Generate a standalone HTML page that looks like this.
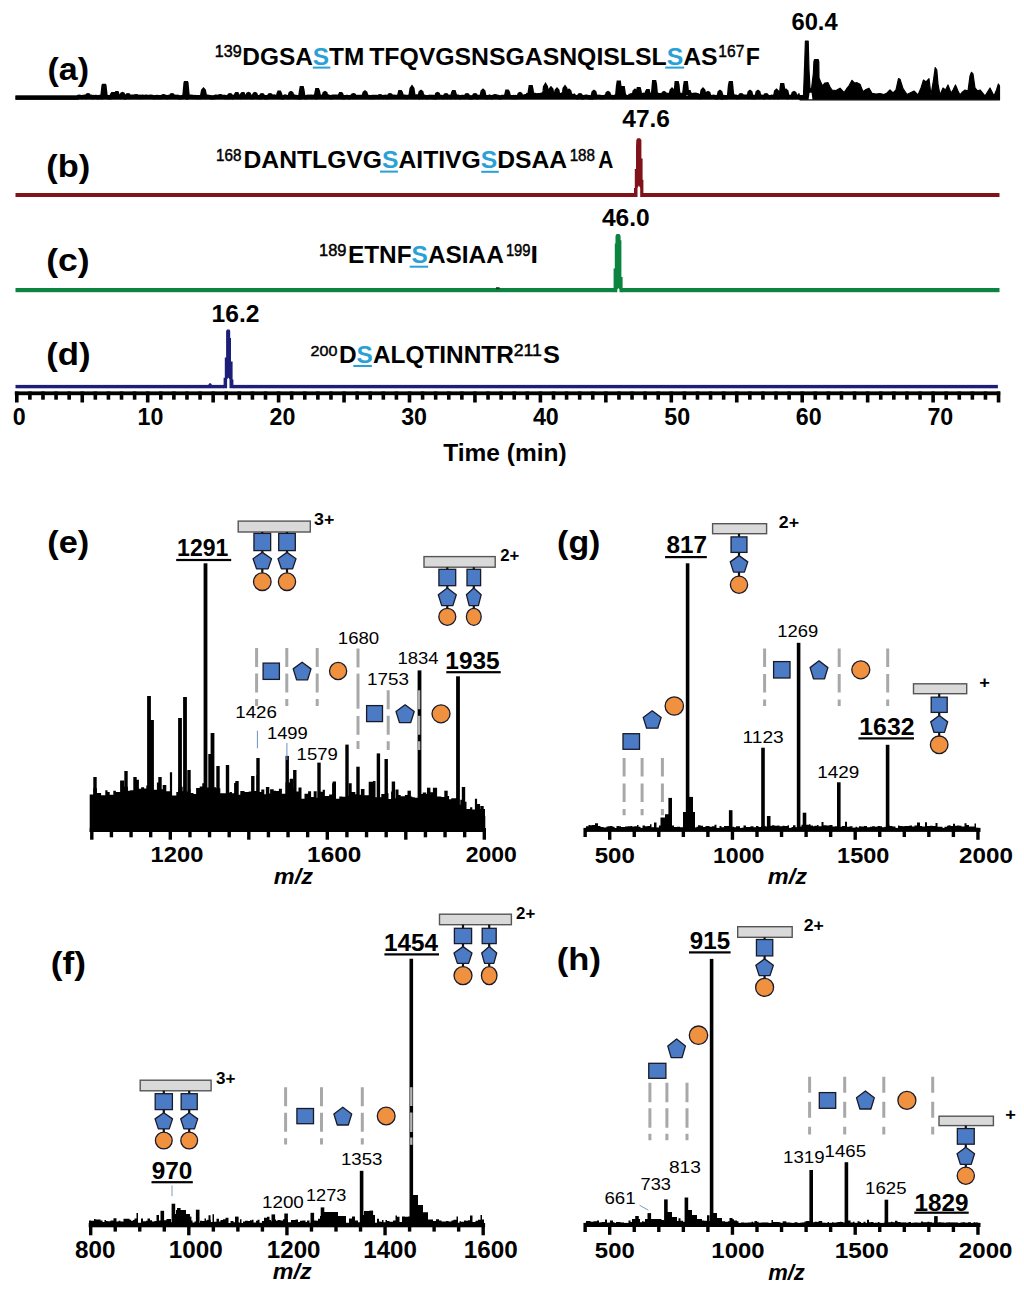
<!DOCTYPE html>
<html><head><meta charset="utf-8"><title>Figure</title>
<style>
html,body{margin:0;padding:0;background:#fff;}
body{width:1024px;height:1290px;overflow:hidden;position:relative;}
svg{position:absolute;left:0;top:0;display:block;}
text{font-family:"Liberation Sans",sans-serif;}
</style></head><body>
<svg width="1024" height="1290" viewBox="0 0 1024 1290">
<rect width="1024" height="1290" fill="#fff"/>
<text x="47.40" y="79.83" font-size="31.76" font-weight="bold" font-style="normal" fill="#000" textLength="41.61" lengthAdjust="spacingAndGlyphs">(a)</text>
<text x="46.28" y="177.07" font-size="31.82" font-weight="bold" font-style="normal" fill="#000" textLength="43.94" lengthAdjust="spacingAndGlyphs">(b)</text>
<text x="46.22" y="271.11" font-size="31.87" font-weight="bold" font-style="normal" fill="#000" textLength="43.46" lengthAdjust="spacingAndGlyphs">(c)</text>
<text x="46.26" y="364.61" font-size="31.87" font-weight="bold" font-style="normal" fill="#000" textLength="44.37" lengthAdjust="spacingAndGlyphs">(d)</text>
<text x="214.89" y="56.84" font-size="15.77" font-weight="normal" font-style="normal" fill="#000" textLength="26.89" lengthAdjust="spacingAndGlyphs" stroke="#000" stroke-width="0.45">139</text>
<text x="242.31" y="64.80" font-size="24.00" font-weight="bold" font-style="normal" fill="#000" textLength="122.00" lengthAdjust="spacingAndGlyphs">DGSA<tspan fill="#2aa1d6">S</tspan>TM</text>
<text x="369.15" y="64.80" font-size="24.00" font-weight="bold" font-style="normal" fill="#000" textLength="348.48" lengthAdjust="spacingAndGlyphs">TFQVGSNSGASNQISLSL<tspan fill="#2aa1d6">S</tspan>AS</text>
<text x="718.33" y="56.84" font-size="15.77" font-weight="normal" font-style="normal" fill="#000" textLength="26.00" lengthAdjust="spacingAndGlyphs" stroke="#000" stroke-width="0.45">167</text>
<text x="745.70" y="64.80" font-size="24.00" font-weight="bold" font-style="normal" fill="#000" textLength="14.13" lengthAdjust="spacingAndGlyphs">F</text>
<rect x="312.80" y="66.60" width="17.60" height="2.00" fill="#2aa1d6"/>
<rect x="665.20" y="66.60" width="19.00" height="2.00" fill="#2aa1d6"/>
<text x="216.06" y="161.44" font-size="15.63" font-weight="normal" font-style="normal" fill="#000" textLength="25.40" lengthAdjust="spacingAndGlyphs" stroke="#000" stroke-width="0.45">168</text>
<text x="243.50" y="168.20" font-size="24.00" font-weight="bold" font-style="normal" fill="#000" textLength="323.67" lengthAdjust="spacingAndGlyphs">DANTLGVG<tspan fill="#2aa1d6">S</tspan>AITIVG<tspan fill="#2aa1d6">S</tspan>DSAA</text>
<text x="569.66" y="161.44" font-size="15.63" font-weight="normal" font-style="normal" fill="#000" textLength="25.40" lengthAdjust="spacingAndGlyphs" stroke="#000" stroke-width="0.45">188</text>
<text x="598.18" y="168.20" font-size="24.00" font-weight="bold" font-style="normal" fill="#000" textLength="15.09" lengthAdjust="spacingAndGlyphs">A</text>
<rect x="380.00" y="170.60" width="18.00" height="2.00" fill="#2aa1d6"/>
<rect x="481.20" y="170.80" width="17.60" height="2.00" fill="#2aa1d6"/>
<text x="319.07" y="256.44" font-size="15.63" font-weight="normal" font-style="normal" fill="#000" textLength="27.43" lengthAdjust="spacingAndGlyphs" stroke="#000" stroke-width="0.45">189</text>
<text x="347.91" y="262.70" font-size="24.00" font-weight="bold" font-style="normal" fill="#000" textLength="155.90" lengthAdjust="spacingAndGlyphs">ETNF<tspan fill="#2aa1d6">S</tspan>ASIAA</text>
<text x="505.89" y="256.44" font-size="15.63" font-weight="normal" font-style="normal" fill="#000" textLength="24.62" lengthAdjust="spacingAndGlyphs" stroke="#000" stroke-width="0.45">199</text>
<text x="530.55" y="262.70" font-size="24.00" font-weight="bold" font-style="normal" fill="#000" textLength="7.47" lengthAdjust="spacingAndGlyphs">I</text>
<rect x="409.70" y="265.70" width="18.50" height="2.00" fill="#2aa1d6"/>
<text x="310.60" y="355.65" font-size="15.49" font-weight="normal" font-style="normal" fill="#000" textLength="26.82" lengthAdjust="spacingAndGlyphs" stroke="#000" stroke-width="0.45">200</text>
<text x="339.01" y="363.30" font-size="24.00" font-weight="bold" font-style="normal" fill="#000" textLength="174.80" lengthAdjust="spacingAndGlyphs">D<tspan fill="#2aa1d6">S</tspan>ALQTINNTR</text>
<text x="513.71" y="355.80" font-size="15.71" font-weight="normal" font-style="normal" fill="#000" textLength="28.27" lengthAdjust="spacingAndGlyphs" stroke="#000" stroke-width="0.45">211</text>
<text x="543.04" y="363.30" font-size="24.00" font-weight="bold" font-style="normal" fill="#000" textLength="16.90" lengthAdjust="spacingAndGlyphs">S</text>
<rect x="353.30" y="365.00" width="18.60" height="2.00" fill="#2aa1d6"/>
<text x="791.47" y="29.96" font-size="23.52" font-weight="bold" font-style="normal" fill="#000" textLength="46.18" lengthAdjust="spacingAndGlyphs">60.4</text>
<text x="622.33" y="127.06" font-size="23.66" font-weight="bold" font-style="normal" fill="#000" textLength="47.66" lengthAdjust="spacingAndGlyphs">47.6</text>
<text x="601.93" y="225.66" font-size="24.23" font-weight="bold" font-style="normal" fill="#000" textLength="47.83" lengthAdjust="spacingAndGlyphs">46.0</text>
<text x="211.52" y="321.75" font-size="24.79" font-weight="bold" font-style="normal" fill="#000" textLength="47.89" lengthAdjust="spacingAndGlyphs">16.2</text>
<rect x="15.50" y="95.60" width="785.00" height="4.10" fill="#000"/>
<polyline points="15.50,97.70 16.00,97.70 16.50,97.70 17.00,97.70 17.50,97.70 18.00,97.70 18.50,97.70 19.00,97.70 19.50,97.70 20.00,97.70 20.50,97.70 21.00,97.70 21.50,97.70 22.00,97.70 22.50,97.70 23.00,97.70 23.50,97.70 24.00,97.70 24.50,97.70 25.00,97.70 25.50,97.70 26.00,97.70 26.50,97.70 27.00,97.70 27.50,97.70 28.00,97.70 28.50,97.70 29.00,97.70 29.50,97.70 30.00,97.70 30.50,97.70 31.00,97.70 31.50,97.70 32.00,97.70 32.50,97.70 33.00,97.70 33.50,97.70 34.00,97.70 34.50,97.70 35.00,97.70 35.50,97.70 36.00,97.70 36.50,97.70 37.00,97.70 37.50,97.70 38.00,97.70 38.50,97.70 39.00,97.70 39.50,97.70 40.00,97.70 40.50,97.70 41.00,97.70 41.50,97.70 42.00,97.70 42.50,97.70 43.00,97.70 43.50,97.70 44.00,97.70 44.50,97.70 45.00,97.70 45.50,97.70 46.00,97.70 46.50,97.70 47.00,97.70 47.50,97.70 48.00,97.70 48.50,97.70 49.00,97.70 49.50,97.70 50.00,97.70 50.50,97.70 51.00,97.70 51.50,97.70 52.00,97.70 52.50,97.70 53.00,97.70 53.50,97.70 54.00,97.70 54.50,97.70 55.00,97.70 55.50,97.70 56.00,97.70 56.50,97.70 57.00,97.70 57.50,97.70 58.00,97.70 58.50,97.70 59.00,97.70 59.50,97.70 60.00,97.70 60.50,97.70 61.00,97.70 61.50,97.70 62.00,97.70 62.50,97.70 63.00,97.70 63.50,97.70 64.00,97.70 64.50,97.70 65.00,97.70 65.50,97.70 66.00,97.70 66.50,97.70 67.00,97.70 67.50,97.70 68.00,97.70 68.50,97.70 69.00,97.70 69.50,97.70 70.00,97.70 70.50,97.70 71.00,97.70 71.50,97.70 72.00,97.70 72.50,97.70 73.00,97.70 73.50,97.70 74.00,97.70 74.50,97.70 75.00,97.70 75.50,97.70 76.00,97.70 76.50,97.70 77.00,97.70 77.50,97.70 78.00,96.97 78.50,96.68 79.00,96.59 79.50,96.74 80.00,96.93 80.50,96.90 81.00,96.97 81.50,97.06 82.00,97.12 82.50,96.92 83.00,96.82 83.50,96.92 84.00,96.73 84.50,96.63 85.00,96.86 85.50,96.94 86.00,97.03 86.50,96.99 87.00,96.13 87.50,95.27 88.00,95.10 88.50,95.27 89.00,96.13 89.50,96.93 90.00,96.91 90.50,97.01 91.00,97.03 91.50,96.76 92.00,96.99 92.50,97.18 93.00,97.17 93.50,97.02 94.00,97.13 94.50,96.99 95.00,97.00 95.50,96.90 96.00,96.89 96.50,97.04 97.00,97.20 97.50,97.24 98.00,97.39 98.50,97.32 99.00,97.06 99.50,96.95 100.00,96.92 100.50,96.94 101.00,97.11 101.50,97.37 102.00,97.25 102.50,94.78 103.00,90.24 103.50,85.71 104.00,84.80 104.50,85.71 105.00,90.24 105.50,94.78 106.00,96.61 106.50,96.80 107.00,96.90 107.50,96.97 108.00,97.15 108.50,97.27 109.00,97.20 109.50,97.32 110.00,97.23 110.50,97.32 111.00,97.10 111.50,96.04 112.00,94.83 112.50,94.10 113.00,94.10 113.50,95.07 114.00,96.29 114.50,96.94 115.00,96.86 115.50,95.30 116.00,93.73 116.50,93.10 117.00,93.10 117.50,94.67 118.00,96.24 118.50,96.64 119.00,96.69 119.50,96.67 120.00,96.79 120.50,96.94 121.00,96.77 121.50,95.56 122.00,94.34 122.50,94.10 123.00,94.34 123.50,95.56 124.00,96.77 124.50,97.26 125.00,97.33 125.50,97.44 126.00,97.37 126.50,96.99 127.00,96.13 127.50,95.27 128.00,95.10 128.50,95.27 129.00,96.13 129.50,96.99 130.00,97.02 130.50,96.90 131.00,96.88 131.50,96.82 132.00,96.60 132.50,96.50 133.00,96.53 133.50,96.51 134.00,96.69 134.50,96.77 135.00,96.70 135.50,96.20 136.00,96.10 136.50,96.20 137.00,96.67 137.50,96.80 138.00,96.64 138.50,96.73 139.00,96.96 139.50,97.09 140.00,96.80 140.50,97.04 141.00,97.02 141.50,96.81 142.00,96.74 142.50,96.91 143.00,96.66 143.50,96.73 144.00,96.87 144.50,96.83 145.00,96.78 145.50,96.83 146.00,96.64 146.50,96.64 147.00,96.70 147.50,96.83 148.00,96.83 148.50,96.95 149.00,96.98 149.50,96.87 150.00,96.72 150.50,96.87 151.00,96.81 151.50,96.72 152.00,96.87 152.50,96.88 153.00,96.94 153.50,97.13 154.00,97.27 154.50,97.22 155.00,97.16 155.50,97.08 156.00,96.96 156.50,96.86 157.00,96.92 157.50,97.15 158.00,97.20 158.50,97.11 159.00,97.23 159.50,97.24 160.00,97.05 160.50,97.03 161.00,97.13 161.50,97.03 162.00,97.00 162.50,96.70 163.00,96.20 163.50,96.10 164.00,96.20 164.50,96.70 165.00,96.77 165.50,96.81 166.00,96.96 166.50,97.20 167.00,97.07 167.50,97.09 168.00,97.12 168.50,96.87 169.00,96.85 169.50,96.86 170.00,96.78 170.50,96.82 171.00,96.13 171.50,95.27 172.00,95.10 172.50,95.27 173.00,96.13 173.50,96.81 174.00,96.88 174.50,96.84 175.00,96.63 175.50,96.78 176.00,96.87 176.50,96.88 177.00,96.77 177.50,97.01 178.00,97.13 178.50,97.00 179.00,97.18 179.50,97.43 180.00,97.40 180.50,97.36 181.00,97.26 181.50,97.24 182.00,97.10 182.50,96.96 183.00,96.88 183.50,97.09 184.00,96.97 184.50,94.16 185.00,88.59 185.50,83.01 186.00,81.90 186.50,83.01 187.00,88.59 187.50,94.16 188.00,97.15 188.50,96.98 189.00,96.71 189.50,96.74 190.00,96.78 190.50,96.71 191.00,96.68 191.50,96.81 192.00,96.80 192.50,96.98 193.00,96.85 193.50,96.98 194.00,96.98 194.50,96.99 195.00,96.95 195.50,97.09 196.00,97.11 196.50,97.12 197.00,97.17 197.50,97.18 198.00,97.13 198.50,97.18 199.00,97.22 199.50,97.09 200.00,97.06 200.50,97.18 201.00,97.11 201.50,97.08 202.00,95.91 202.50,93.27 203.00,90.63 203.50,90.10 204.00,90.63 204.50,93.27 205.00,95.91 205.50,97.00 206.00,97.09 206.50,96.94 207.00,96.70 207.50,96.70 208.00,96.81 208.50,96.76 209.00,96.84 209.50,97.01 210.00,97.08 210.50,97.16 211.00,97.25 211.50,97.37 212.00,97.39 212.50,97.47 213.00,97.41 213.50,97.45 214.00,97.26 214.50,97.15 215.00,96.91 215.50,96.71 216.00,96.71 216.50,96.75 217.00,96.69 217.50,96.72 218.00,96.86 218.50,96.76 219.00,96.70 219.50,96.20 220.00,96.10 220.50,96.20 221.00,96.70 221.50,96.84 222.00,96.70 222.50,96.81 223.00,96.76 223.50,96.83 224.00,96.80 224.50,97.02 225.00,96.93 225.50,97.05 226.00,97.00 226.50,97.12 227.00,97.09 227.50,97.02 228.00,96.80 228.50,96.95 229.00,96.13 229.50,95.27 230.00,95.10 230.50,95.27 231.00,96.13 231.50,96.98 232.00,97.09 232.50,97.29 233.00,97.03 233.50,96.86 234.00,96.98 234.50,96.94 235.00,96.82 235.50,96.04 236.00,94.83 236.50,94.10 237.00,94.10 237.50,95.07 238.00,96.29 238.50,96.96 239.00,96.87 239.50,96.94 240.00,96.94 240.50,97.05 241.00,97.01 241.50,95.80 242.00,94.59 242.50,94.10 243.00,94.10 243.50,95.31 244.00,96.53 244.50,96.95 245.00,96.96 245.50,96.95 246.00,96.96 246.50,97.05 247.00,96.77 247.50,95.56 248.00,94.34 248.50,94.10 249.00,94.34 249.50,95.56 250.00,96.75 250.50,96.86 251.00,97.01 251.50,96.98 252.00,97.05 252.50,97.24 253.00,97.21 253.50,96.77 254.00,95.56 254.50,94.34 255.00,94.10 255.50,94.34 256.00,95.56 256.50,96.77 257.00,97.12 257.50,97.22 258.00,97.17 258.50,97.10 259.00,97.08 259.50,96.96 260.00,96.77 260.50,96.99 261.00,96.13 261.50,95.27 262.00,95.10 262.50,95.27 263.00,96.13 263.50,96.85 264.00,96.98 264.50,97.07 265.00,97.20 265.50,97.34 266.00,97.19 266.50,97.17 267.00,97.20 267.50,97.28 268.00,97.27 268.50,96.99 269.00,96.13 269.50,95.27 270.00,95.10 270.50,95.27 271.00,96.13 271.50,96.76 272.00,96.84 272.50,96.66 273.00,96.51 273.50,96.61 274.00,96.56 274.50,96.51 275.00,96.69 275.50,96.82 276.00,96.71 276.50,96.95 277.00,96.90 277.50,96.70 278.00,95.75 278.50,94.00 279.00,92.60 279.50,92.60 280.00,93.65 280.50,95.40 281.00,97.04 281.50,97.04 282.00,97.24 282.50,97.47 283.00,97.46 283.50,97.22 284.00,97.00 284.50,96.77 285.00,96.52 285.50,96.57 286.00,96.86 286.50,96.97 287.00,97.00 287.50,97.04 288.00,97.03 288.50,97.00 289.00,97.01 289.50,96.56 290.00,94.99 290.50,93.41 291.00,93.10 291.50,93.41 292.00,94.99 292.50,96.56 293.00,96.87 293.50,96.59 294.00,96.49 294.50,96.73 295.00,96.99 295.50,96.83 296.00,96.88 296.50,97.14 297.00,97.15 297.50,97.06 298.00,97.17 298.50,97.34 299.00,97.19 299.50,97.21 300.00,97.25 300.50,94.14 301.00,90.79 301.50,88.10 302.00,88.10 302.50,90.11 303.00,93.47 303.50,96.83 304.00,96.88 304.50,97.05 305.00,97.26 305.50,97.29 306.00,97.14 306.50,96.98 307.00,96.79 307.50,96.83 308.00,96.71 308.50,96.80 309.00,96.97 309.50,96.99 310.00,96.81 310.50,96.74 311.00,96.83 311.50,96.69 312.00,96.95 312.50,96.84 313.00,96.78 313.50,96.63 314.00,96.88 314.50,96.67 315.00,96.86 315.50,97.03 316.00,95.39 316.50,92.74 317.00,90.10 317.50,90.10 318.00,91.16 318.50,93.80 319.00,96.44 319.50,96.47 320.00,96.47 320.50,96.62 321.00,96.78 321.50,96.89 322.00,96.93 322.50,97.01 323.00,97.06 323.50,96.56 324.00,94.99 324.50,93.41 325.00,93.10 325.50,93.41 326.00,94.99 326.50,96.56 327.00,96.81 327.50,96.76 328.00,96.72 328.50,96.55 329.00,96.84 329.50,96.90 330.00,97.09 330.50,97.27 331.00,97.26 331.50,97.01 332.00,97.16 332.50,96.89 333.00,96.63 333.50,96.60 334.00,96.56 334.50,96.50 335.00,96.50 335.50,96.54 336.00,96.65 336.50,96.85 337.00,96.69 337.50,96.85 338.00,96.98 338.50,96.83 339.00,96.76 339.50,96.29 340.00,95.07 340.50,94.10 341.00,94.10 341.50,94.83 342.00,96.04 342.50,97.01 343.00,96.98 343.50,97.21 344.00,97.12 344.50,97.11 345.00,97.03 345.50,97.09 346.00,96.93 346.50,96.84 347.00,96.90 347.50,96.95 348.00,97.01 348.50,97.10 349.00,97.32 349.50,97.17 350.00,97.04 350.50,96.90 351.00,96.82 351.50,96.68 352.00,96.81 352.50,96.13 353.00,95.27 353.50,95.10 354.00,95.27 354.50,96.13 355.00,96.99 355.50,97.03 356.00,97.07 356.50,96.94 357.00,96.81 357.50,96.79 358.00,96.95 358.50,96.98 359.00,96.97 359.50,96.90 360.00,96.92 360.50,96.89 361.00,96.83 361.50,96.84 362.00,97.06 362.50,96.90 363.00,96.77 363.50,96.45 364.00,94.70 364.50,92.95 365.00,92.60 365.50,92.95 366.00,94.70 366.50,96.45 367.00,96.95 367.50,96.83 368.00,96.75 368.50,96.81 369.00,96.95 369.50,97.15 370.00,97.16 370.50,97.14 371.00,97.07 371.50,97.11 372.00,96.92 372.50,97.08 373.00,96.98 373.50,97.07 374.00,96.91 374.50,97.03 375.00,96.94 375.50,96.93 376.00,96.94 376.50,96.91 377.00,96.90 377.50,96.97 378.00,97.06 378.50,97.00 379.00,96.70 379.50,96.20 380.00,96.10 380.50,96.20 381.00,96.70 381.50,96.85 382.00,96.88 382.50,96.97 383.00,97.05 383.50,96.97 384.00,96.91 384.50,96.75 385.00,96.74 385.50,96.66 386.00,96.75 386.50,96.91 387.00,97.07 387.50,97.00 388.00,97.09 388.50,96.99 389.00,96.13 389.50,95.27 390.00,95.10 390.50,95.27 391.00,96.13 391.50,96.65 392.00,96.73 392.50,96.68 393.00,96.80 393.50,96.92 394.00,96.79 394.50,96.75 395.00,96.94 395.50,96.95 396.00,96.94 396.50,96.92 397.00,96.83 397.50,96.76 398.00,96.79 398.50,96.77 399.00,95.96 399.50,94.03 400.00,92.10 400.50,92.10 401.00,92.87 401.50,94.80 402.00,96.71 402.50,96.74 403.00,96.67 403.50,96.64 404.00,96.55 404.50,96.75 405.00,96.72 405.50,96.78 406.00,96.90 406.50,97.12 407.00,96.99 407.50,97.02 408.00,96.91 408.50,96.86 409.00,96.59 409.50,96.80 410.00,96.83 410.50,95.49 411.00,92.13 411.50,88.77 412.00,88.10 412.50,88.77 413.00,92.13 413.50,95.49 414.00,97.05 414.50,97.08 415.00,96.89 415.50,96.63 416.00,96.56 416.50,96.38 417.00,96.35 417.50,96.57 418.00,96.84 418.50,96.95 419.00,97.17 419.50,96.34 420.00,94.41 420.50,92.49 421.00,92.10 421.50,92.49 422.00,94.41 422.50,96.34 423.00,97.03 423.50,96.85 424.00,96.92 424.50,96.74 425.00,96.93 425.50,96.98 426.00,97.06 426.50,97.11 427.00,97.30 427.50,97.23 428.00,97.14 428.50,97.07 429.00,96.86 429.50,96.71 430.00,96.74 430.50,96.77 431.00,96.95 431.50,96.95 432.00,97.08 432.50,96.97 433.00,97.12 433.50,96.98 434.00,97.18 434.50,97.23 435.00,97.45 435.50,97.41 436.00,96.77 436.50,95.56 437.00,94.34 437.50,94.10 438.00,94.34 438.50,95.56 439.00,96.77 439.50,97.10 440.00,97.06 440.50,96.82 441.00,96.82 441.50,96.86 442.00,97.00 442.50,97.04 443.00,97.28 443.50,97.10 444.00,96.99 444.50,96.91 445.00,96.13 445.50,95.27 446.00,95.10 446.50,95.27 447.00,96.13 447.50,96.99 448.00,96.81 448.50,96.88 449.00,96.94 449.50,97.05 450.00,96.90 450.50,96.92 451.00,97.06 451.50,97.06 452.00,96.91 452.50,95.19 453.00,93.26 453.50,92.10 454.00,92.10 454.50,93.64 455.00,95.57 455.50,97.10 456.00,97.10 456.50,96.90 457.00,96.83 457.50,96.66 458.00,96.70 458.50,96.79 459.00,97.05 459.50,97.15 460.00,97.31 460.50,97.37 461.00,97.16 461.50,96.96 462.00,96.85 462.50,96.83 463.00,96.86 463.50,97.03 464.00,97.10 464.50,97.15 465.00,97.07 465.50,96.91 466.00,96.13 466.50,95.27 467.00,95.10 467.50,95.27 468.00,96.13 468.50,96.99 469.00,97.28 469.50,97.31 470.00,97.35 470.50,97.38 471.00,97.45 471.50,97.43 472.00,97.23 472.50,97.13 473.00,96.90 473.50,96.88 474.00,96.13 474.50,95.27 475.00,95.10 475.50,95.27 476.00,96.13 476.50,96.99 477.00,97.26 477.50,97.37 478.00,97.15 478.50,97.00 479.00,96.76 479.50,96.75 480.00,96.67 480.50,96.70 481.00,96.82 481.50,96.13 482.00,93.84 482.50,91.56 483.00,91.10 483.50,91.56 484.00,93.84 484.50,96.13 485.00,97.01 485.50,97.18 486.00,97.11 486.50,97.16 487.00,97.30 487.50,97.22 488.00,97.03 488.50,97.05 489.00,96.86 489.50,96.62 490.00,96.85 490.50,97.04 491.00,97.11 491.50,97.14 492.00,97.25 492.50,97.11 493.00,96.86 493.50,96.60 494.00,96.57 494.50,96.20 495.00,96.10 495.50,96.20 496.00,96.56 496.50,96.74 497.00,96.63 497.50,96.76 498.00,96.85 498.50,97.02 499.00,97.01 499.50,97.27 500.00,97.32 500.50,97.41 501.00,97.13 501.50,97.04 502.00,96.79 502.50,96.84 503.00,96.83 503.50,96.87 504.00,96.82 504.50,96.90 505.00,96.81 505.50,96.71 506.00,95.81 506.50,93.71 507.00,91.60 507.50,91.60 508.00,92.44 508.50,94.55 509.00,96.66 509.50,96.89 510.00,96.85 510.50,97.01 511.00,97.01 511.50,97.17 512.00,97.02 512.50,97.05 513.00,97.12 513.50,97.08 514.00,96.95 514.50,97.01 515.00,97.04 515.50,96.98 516.00,97.21 516.50,97.16 517.00,97.04 517.50,97.11 518.00,97.05 518.50,96.76 519.00,95.56 519.50,94.34 520.00,94.10 520.50,94.34 521.00,95.56 521.50,96.77 522.00,96.86 522.50,96.95 523.00,96.91 523.50,96.67 524.00,96.77 524.50,96.76 525.00,96.33 525.50,96.09 526.00,96.01 526.50,95.95 527.00,96.04 527.50,95.23 528.00,95.37 528.50,95.11 529.00,94.51 529.50,93.79 530.00,90.07 530.50,87.10 531.00,87.10 531.50,89.33 532.00,93.04 532.50,95.16 533.00,95.04 533.50,94.84 534.00,94.69 534.50,94.77 535.00,94.77 535.50,94.88 536.00,95.11 536.50,95.44 537.00,95.37 537.50,95.28 538.00,95.19 538.50,95.25 539.00,95.01 539.50,95.04 540.00,95.08 540.50,95.08 541.00,94.78 541.50,94.80 542.00,94.63 542.50,94.35 543.00,94.37 543.50,94.36 544.00,94.30 544.50,90.99 545.00,86.91 545.50,86.10 546.00,86.91 546.50,90.99 547.00,94.54 547.50,94.52 548.00,94.57 548.50,94.50 549.00,94.39 549.50,94.44 550.00,92.70 550.50,89.70 551.00,89.10 551.50,89.70 552.00,92.70 552.50,94.53 553.00,94.95 553.50,95.03 554.00,95.17 554.50,95.21 555.00,95.23 555.50,95.18 556.00,93.27 556.50,90.63 557.00,90.10 557.50,90.63 558.00,93.27 558.50,94.53 559.00,94.65 559.50,94.88 560.00,95.16 560.50,95.19 561.00,94.98 561.50,94.71 562.00,94.66 562.50,94.37 563.00,94.29 563.50,94.52 564.00,92.13 564.50,88.77 565.00,88.10 565.50,88.77 566.00,92.13 566.50,95.11 567.00,95.01 567.50,94.91 568.00,93.84 568.50,91.56 569.00,91.10 569.50,91.56 570.00,93.84 570.50,95.01 571.00,95.30 571.50,95.72 572.00,95.73 572.50,95.98 573.00,96.13 573.50,96.05 574.00,95.81 574.50,96.35 575.00,96.52 575.50,96.90 576.00,97.01 576.50,97.19 577.00,97.22 577.50,97.28 578.00,97.36 578.50,96.99 579.00,96.13 579.50,95.27 580.00,95.10 580.50,95.27 581.00,96.13 581.50,96.99 582.00,97.24 582.50,97.17 583.00,97.40 583.50,97.28 584.00,97.08 584.50,97.01 585.00,96.91 585.50,96.67 586.00,96.60 586.50,96.62 587.00,96.67 587.50,96.70 588.00,96.94 588.50,97.12 589.00,97.27 589.50,97.15 590.00,97.39 590.50,97.28 591.00,97.32 591.50,97.17 592.00,97.32 592.50,96.34 593.00,94.41 593.50,92.49 594.00,92.10 594.50,92.49 595.00,94.41 595.50,96.34 596.00,97.09 596.50,97.02 597.00,96.97 597.50,96.88 598.00,96.86 598.50,96.87 599.00,96.72 599.50,96.94 600.00,96.99 600.50,96.96 601.00,97.09 601.50,97.11 602.00,96.98 602.50,96.98 603.00,97.05 603.50,96.99 604.00,96.98 604.50,96.97 605.00,96.78 605.50,96.53 606.00,96.69 606.50,96.56 607.00,94.99 607.50,93.41 608.00,93.10 608.50,93.41 609.00,94.99 609.50,96.56 610.00,96.82 610.50,96.75 611.00,96.59 611.50,96.67 612.00,96.91 612.50,97.00 613.00,97.12 613.50,97.10 614.00,97.06 614.50,96.84 615.00,96.67 615.50,96.61 616.00,96.74 616.50,96.91 617.00,96.44 617.50,91.11 618.00,85.79 618.50,82.60 619.00,82.60 619.50,86.86 620.00,92.18 620.50,97.03 621.00,96.16 621.50,92.80 622.00,89.44 622.50,88.10 623.00,88.10 623.50,91.46 624.00,94.81 624.50,96.84 625.00,96.87 625.50,96.66 626.00,96.69 626.50,96.92 627.00,96.99 627.50,97.13 628.00,97.15 628.50,97.03 629.00,96.74 629.50,96.86 630.00,95.78 630.50,95.78 631.00,95.46 631.50,95.88 632.00,95.46 632.50,95.54 633.00,95.41 633.50,95.36 634.00,93.84 634.50,91.56 635.00,91.10 635.50,91.56 636.00,93.84 636.50,95.23 637.00,95.18 637.50,94.50 638.00,91.50 638.50,89.10 639.00,89.10 639.50,90.90 640.00,93.90 640.50,95.07 641.00,95.31 641.50,95.04 642.00,95.24 642.50,95.19 643.00,95.00 643.50,94.79 644.00,95.04 644.50,94.98 645.00,95.10 645.50,95.44 646.00,95.44 646.50,94.30 647.00,92.01 647.50,91.10 648.00,91.10 648.50,93.39 649.00,95.09 649.50,95.14 650.00,95.34 650.50,95.20 651.00,95.21 651.50,95.46 652.00,95.54 652.50,95.38 653.00,93.10 653.50,87.60 654.00,82.10 654.50,82.10 655.00,84.30 655.50,89.80 656.00,94.93 656.50,94.98 657.00,94.84 657.50,94.79 658.00,95.09 658.50,94.93 659.00,95.06 659.50,95.04 660.00,95.09 660.50,95.06 661.00,95.24 661.50,95.24 662.00,95.39 662.50,95.35 663.00,94.99 663.50,93.41 664.00,93.10 664.50,93.41 665.00,94.99 665.50,95.21 666.00,95.20 666.50,95.13 667.00,94.92 667.50,94.86 668.00,95.09 668.50,94.88 669.00,95.03 669.50,95.38 670.00,95.25 670.50,95.13 671.00,93.27 671.50,90.63 672.00,90.10 672.50,90.63 673.00,93.27 673.50,95.22 674.00,95.35 674.50,95.28 675.00,95.44 675.50,93.39 676.00,88.24 676.50,83.10 677.00,83.10 677.50,85.16 678.00,90.30 678.50,95.10 679.00,94.83 679.50,94.88 680.00,95.24 680.50,95.20 681.00,94.95 681.50,95.27 682.00,95.45 682.50,95.48 683.00,95.59 683.50,95.67 684.00,95.41 684.50,91.33 685.00,86.19 685.50,83.10 686.00,83.10 686.50,87.21 687.00,92.36 687.50,94.78 688.00,92.87 688.50,92.10 689.00,92.10 689.50,94.03 690.00,94.93 690.50,94.94 691.00,95.16 691.50,94.88 692.00,95.10 692.50,95.24 693.00,95.28 693.50,94.90 694.00,94.98 694.50,94.74 695.00,94.64 695.50,94.72 696.00,94.74 696.50,95.07 697.00,95.12 697.50,95.15 698.00,95.54 698.50,96.14 699.00,96.41 699.50,97.07 700.00,97.20 700.50,97.22 701.00,96.97 701.50,95.91 702.00,93.27 702.50,90.63 703.00,90.10 703.50,90.63 704.00,93.27 704.50,95.91 705.00,96.76 705.50,96.79 706.00,96.96 706.50,96.56 707.00,94.99 707.50,93.41 708.00,93.10 708.50,93.41 709.00,94.99 709.50,96.56 710.00,96.94 710.50,97.01 711.00,96.85 711.50,97.02 712.00,97.02 712.50,96.88 713.00,96.74 713.50,96.71 714.00,96.79 714.50,96.86 715.00,97.03 715.50,97.17 716.00,97.31 716.50,97.10 717.00,97.23 717.50,96.99 718.00,97.02 718.50,96.34 719.00,94.41 719.50,92.49 720.00,92.10 720.50,92.49 721.00,94.41 721.50,96.34 722.00,97.31 722.50,97.14 723.00,97.09 723.50,97.08 724.00,96.96 724.50,96.98 725.00,97.10 725.50,97.06 726.00,97.17 726.50,97.11 727.00,97.12 727.50,96.99 728.00,96.89 728.50,96.86 729.00,95.44 729.50,90.30 730.00,85.16 730.50,83.10 731.00,83.10 731.50,88.24 732.00,93.39 732.50,96.79 733.00,96.74 733.50,96.79 734.00,96.73 734.50,96.54 735.00,96.63 735.50,96.74 736.00,96.73 736.50,96.93 737.00,97.16 737.50,97.20 738.00,97.18 738.50,97.08 739.00,96.99 739.50,96.91 740.00,96.13 740.50,95.27 741.00,95.10 741.50,95.27 742.00,96.13 742.50,96.80 743.00,96.85 743.50,96.84 744.00,96.69 744.50,96.64 745.00,96.68 745.50,96.70 746.00,96.73 746.50,96.61 747.00,96.77 747.50,96.88 748.00,96.96 748.50,96.34 749.00,94.41 749.50,92.49 750.00,92.10 750.50,92.49 751.00,94.41 751.50,96.34 752.00,97.04 752.50,96.94 753.00,97.00 753.50,96.95 754.00,97.10 754.50,97.15 755.00,97.25 755.50,97.06 756.00,96.98 756.50,96.34 757.00,94.41 757.50,92.49 758.00,92.10 758.50,92.49 759.00,94.41 759.50,96.34 760.00,97.04 760.50,97.01 761.00,96.79 761.50,96.64 762.00,96.81 762.50,97.04 763.00,97.08 763.50,97.27 764.00,97.34 764.50,96.99 765.00,96.13 765.50,95.27 766.00,95.10 766.50,95.27 767.00,96.13 767.50,96.78 768.00,96.87 768.50,97.03 769.00,97.09 769.50,97.23 770.00,97.16 770.50,97.04 771.00,96.99 771.50,96.80 772.00,96.71 772.50,96.76 773.00,96.81 773.50,96.82 774.00,97.06 774.50,97.07 775.00,96.13 775.50,93.84 776.00,91.56 776.50,91.10 777.00,91.56 777.50,93.84 778.00,96.13 778.50,96.93 779.00,96.64 779.50,96.58 780.00,96.64 780.50,96.51 781.00,93.07 781.50,88.64 782.00,85.10 782.50,85.10 783.00,87.76 783.50,92.19 784.00,96.61 784.50,96.13 785.00,93.84 785.50,91.56 786.00,91.10 786.50,91.56 787.00,93.84 787.50,96.13 788.00,97.04 788.50,96.92 789.00,96.76 789.50,96.77 790.00,96.83 790.50,96.85 791.00,97.00 791.50,97.02 792.00,97.10 792.50,96.56 793.00,94.99 793.50,93.41 794.00,93.10 794.50,93.41 795.00,94.99 795.50,96.56 796.00,96.87 796.50,96.92 797.00,96.90 797.50,96.79 798.00,96.93 798.50,96.96 799.00,96.13 799.50,95.27 800.00,95.10" fill="none" stroke="#000" stroke-width="4.2" stroke-linejoin="miter" stroke-miterlimit="2"/>
<path d="M800.0,99.80 L800.0,95.50 L803.5,95.50 L804.8,60.00 L805.4,41.00 L808.2,41.00 L809.0,70.00 L810.0,88.50 L811.5,89.00 L813.4,73.00 L813.9,62.00 L814.6,59.50 L818.2,59.50 L818.8,62.00 L819.0,78.00 L820.5,81.60 L822.5,86.00 L825.0,83.00 L828.0,82.70 L830.0,87.00 L832.0,90.00 L836.0,90.50 L840.0,88.20 L844.0,92.50 L846.5,89.00 L849.0,85.90 L852.0,80.40 L854.5,83.00 L857.0,82.70 L860.0,84.30 L863.0,91.70 L866.0,89.50 L869.0,88.20 L872.0,93.30 L876.0,94.00 L880.0,93.50 L884.0,94.50 L887.0,93.00 L890.0,90.00 L893.0,93.00 L896.0,90.00 L898.5,78.60 L900.0,79.30 L903.0,88.70 L907.0,94.50 L911.0,92.50 L914.0,91.00 L918.0,95.00 L921.0,88.00 L923.5,80.00 L926.0,82.00 L929.0,78.70 L931.0,95.00 L933.5,80.00 L935.2,67.60 L936.8,70.00 L938.0,84.00 L940.0,95.00 L943.0,88.00 L945.5,90.00 L948.0,85.00 L951.0,93.00 L953.0,90.00 L955.5,85.00 L958.0,91.00 L960.0,95.00 L962.5,92.00 L965.0,90.00 L968.0,91.00 L970.0,76.00 L971.5,72.30 L973.0,74.00 L975.0,88.00 L977.5,91.00 L980.0,90.00 L982.5,93.00 L985.0,96.00 L987.5,92.00 L990.0,88.00 L992.0,92.00 L994.0,96.00 L996.5,90.00 L998.4,84.00 L999.5,86.00 L999.5,99.80 Z" fill="#000" stroke="#000" stroke-width="1.2" stroke-linejoin="round"/>
<path d="M808.6,99.2 L809.6,92.8 L811.6,92.8 L812.4,99.2 Z" fill="#fff"/>
<rect x="15.50" y="193.00" width="619.00" height="4.00" fill="#80121a"/>
<rect x="643.00" y="193.00" width="356.50" height="4.00" fill="#80121a"/>
<path d="M634.00,197.00 L634.00,188.00 L634.80,188.00 L634.80,169.00 L636.00,169.00 L636.00,147.00 L636.30,140.00 L637.50,138.30 L640.00,138.30 L641.40,140.00 L641.40,158.60 L642.60,158.60 L642.60,179.70 L643.40,179.70 L643.40,197.00 L640.20,197.00 L640.20,188.00 L638.90,185.50 L637.50,188.00 L637.50,197.00 Z" fill="#80121a"/>
<rect x="15.50" y="288.00" width="598.50" height="4.20" fill="#0b8440"/>
<rect x="622.00" y="288.00" width="377.50" height="4.20" fill="#0b8440"/>
<rect x="496.00" y="287.20" width="3.60" height="2.00" fill="#1a3a2a"/>
<path d="M613.60,292.20 L613.60,268.40 L614.80,268.40 L614.80,243.40 L615.50,243.40 L615.50,236.00 L616.50,234.00 L619.50,234.00 L620.60,236.00 L620.60,240.30 L621.40,240.30 L621.40,277.00 L622.60,277.00 L622.60,292.20 L619.50,292.20 L619.50,289.50 L618.40,288.00 L617.30,289.50 L617.30,292.20 Z" fill="#0b8440"/>
<rect x="15.50" y="384.90" width="208.50" height="3.40" fill="#1c1e78"/>
<rect x="233.00" y="384.90" width="764.90" height="3.40" fill="#1c1e78"/>
<path d="M208.20,385.00 L209.40,383.20 L210.80,383.20 L212.00,385.00 Z" fill="#1c1e78"/>
<path d="M223.60,388.30 L223.60,377.80 L224.80,377.80 L224.80,357.50 L226.10,357.50 L226.10,331.00 L227.00,329.40 L229.50,329.40 L230.20,331.00 L230.20,338.00 L231.00,338.00 L231.00,361.40 L232.60,361.40 L232.60,379.40 L233.40,379.40 L233.40,388.30 L229.50,388.30 L229.50,379.50 L228.30,377.50 L227.10,379.50 L227.10,388.30 Z" fill="#1c1e78"/>
<rect x="14.80" y="391.40" width="985.40" height="3.80" fill="#000"/>
<rect x="15.00" y="391.50" width="3.60" height="11.00" fill="#000"/>
<rect x="28.09" y="391.50" width="3.60" height="8.20" fill="#000"/>
<rect x="41.18" y="391.50" width="3.60" height="8.20" fill="#000"/>
<rect x="54.27" y="391.50" width="3.60" height="8.20" fill="#000"/>
<rect x="67.36" y="391.50" width="3.60" height="8.20" fill="#000"/>
<rect x="80.45" y="391.50" width="3.60" height="11.00" fill="#000"/>
<rect x="93.54" y="391.50" width="3.60" height="8.20" fill="#000"/>
<rect x="106.63" y="391.50" width="3.60" height="8.20" fill="#000"/>
<rect x="119.72" y="391.50" width="3.60" height="8.20" fill="#000"/>
<rect x="132.81" y="391.50" width="3.60" height="8.20" fill="#000"/>
<rect x="145.90" y="391.50" width="3.60" height="11.00" fill="#000"/>
<rect x="158.99" y="391.50" width="3.60" height="8.20" fill="#000"/>
<rect x="172.08" y="391.50" width="3.60" height="8.20" fill="#000"/>
<rect x="185.17" y="391.50" width="3.60" height="8.20" fill="#000"/>
<rect x="198.26" y="391.50" width="3.60" height="8.20" fill="#000"/>
<rect x="211.35" y="391.50" width="3.60" height="11.00" fill="#000"/>
<rect x="224.44" y="391.50" width="3.60" height="8.20" fill="#000"/>
<rect x="237.53" y="391.50" width="3.60" height="8.20" fill="#000"/>
<rect x="250.62" y="391.50" width="3.60" height="8.20" fill="#000"/>
<rect x="263.71" y="391.50" width="3.60" height="8.20" fill="#000"/>
<rect x="276.80" y="391.50" width="3.60" height="11.00" fill="#000"/>
<rect x="289.89" y="391.50" width="3.60" height="8.20" fill="#000"/>
<rect x="302.98" y="391.50" width="3.60" height="8.20" fill="#000"/>
<rect x="316.07" y="391.50" width="3.60" height="8.20" fill="#000"/>
<rect x="329.16" y="391.50" width="3.60" height="8.20" fill="#000"/>
<rect x="342.25" y="391.50" width="3.60" height="11.00" fill="#000"/>
<rect x="355.34" y="391.50" width="3.60" height="8.20" fill="#000"/>
<rect x="368.43" y="391.50" width="3.60" height="8.20" fill="#000"/>
<rect x="381.52" y="391.50" width="3.60" height="8.20" fill="#000"/>
<rect x="394.61" y="391.50" width="3.60" height="8.20" fill="#000"/>
<rect x="407.70" y="391.50" width="3.60" height="11.00" fill="#000"/>
<rect x="420.79" y="391.50" width="3.60" height="8.20" fill="#000"/>
<rect x="433.88" y="391.50" width="3.60" height="8.20" fill="#000"/>
<rect x="446.97" y="391.50" width="3.60" height="8.20" fill="#000"/>
<rect x="460.06" y="391.50" width="3.60" height="8.20" fill="#000"/>
<rect x="473.15" y="391.50" width="3.60" height="11.00" fill="#000"/>
<rect x="486.24" y="391.50" width="3.60" height="8.20" fill="#000"/>
<rect x="499.33" y="391.50" width="3.60" height="8.20" fill="#000"/>
<rect x="512.42" y="391.50" width="3.60" height="8.20" fill="#000"/>
<rect x="525.51" y="391.50" width="3.60" height="8.20" fill="#000"/>
<rect x="538.60" y="391.50" width="3.60" height="11.00" fill="#000"/>
<rect x="551.69" y="391.50" width="3.60" height="8.20" fill="#000"/>
<rect x="564.78" y="391.50" width="3.60" height="8.20" fill="#000"/>
<rect x="577.87" y="391.50" width="3.60" height="8.20" fill="#000"/>
<rect x="590.96" y="391.50" width="3.60" height="8.20" fill="#000"/>
<rect x="604.05" y="391.50" width="3.60" height="11.00" fill="#000"/>
<rect x="617.14" y="391.50" width="3.60" height="8.20" fill="#000"/>
<rect x="630.23" y="391.50" width="3.60" height="8.20" fill="#000"/>
<rect x="643.32" y="391.50" width="3.60" height="8.20" fill="#000"/>
<rect x="656.41" y="391.50" width="3.60" height="8.20" fill="#000"/>
<rect x="669.50" y="391.50" width="3.60" height="11.00" fill="#000"/>
<rect x="682.59" y="391.50" width="3.60" height="8.20" fill="#000"/>
<rect x="695.68" y="391.50" width="3.60" height="8.20" fill="#000"/>
<rect x="708.77" y="391.50" width="3.60" height="8.20" fill="#000"/>
<rect x="721.86" y="391.50" width="3.60" height="8.20" fill="#000"/>
<rect x="734.95" y="391.50" width="3.60" height="11.00" fill="#000"/>
<rect x="748.04" y="391.50" width="3.60" height="8.20" fill="#000"/>
<rect x="761.13" y="391.50" width="3.60" height="8.20" fill="#000"/>
<rect x="774.22" y="391.50" width="3.60" height="8.20" fill="#000"/>
<rect x="787.31" y="391.50" width="3.60" height="8.20" fill="#000"/>
<rect x="800.40" y="391.50" width="3.60" height="11.00" fill="#000"/>
<rect x="813.49" y="391.50" width="3.60" height="8.20" fill="#000"/>
<rect x="826.58" y="391.50" width="3.60" height="8.20" fill="#000"/>
<rect x="839.67" y="391.50" width="3.60" height="8.20" fill="#000"/>
<rect x="852.76" y="391.50" width="3.60" height="8.20" fill="#000"/>
<rect x="865.85" y="391.50" width="3.60" height="11.00" fill="#000"/>
<rect x="878.94" y="391.50" width="3.60" height="8.20" fill="#000"/>
<rect x="892.03" y="391.50" width="3.60" height="8.20" fill="#000"/>
<rect x="905.12" y="391.50" width="3.60" height="8.20" fill="#000"/>
<rect x="918.21" y="391.50" width="3.60" height="8.20" fill="#000"/>
<rect x="931.30" y="391.50" width="3.60" height="11.00" fill="#000"/>
<rect x="944.39" y="391.50" width="3.60" height="8.20" fill="#000"/>
<rect x="957.48" y="391.50" width="3.60" height="8.20" fill="#000"/>
<rect x="970.57" y="391.50" width="3.60" height="8.20" fill="#000"/>
<rect x="983.66" y="391.50" width="3.60" height="8.20" fill="#000"/>
<rect x="996.75" y="391.50" width="3.60" height="11.00" fill="#000"/>
<text x="12.65" y="425.27" font-size="23.24" font-weight="bold" font-style="normal" fill="#000" textLength="12.93" lengthAdjust="spacingAndGlyphs">0</text>
<text x="137.57" y="425.27" font-size="23.24" font-weight="bold" font-style="normal" fill="#000" textLength="25.85" lengthAdjust="spacingAndGlyphs">10</text>
<text x="269.46" y="425.27" font-size="23.24" font-weight="bold" font-style="normal" fill="#000" textLength="25.85" lengthAdjust="spacingAndGlyphs">20</text>
<text x="401.18" y="425.27" font-size="23.24" font-weight="bold" font-style="normal" fill="#000" textLength="25.85" lengthAdjust="spacingAndGlyphs">30</text>
<text x="532.89" y="425.27" font-size="23.24" font-weight="bold" font-style="normal" fill="#000" textLength="25.85" lengthAdjust="spacingAndGlyphs">40</text>
<text x="664.32" y="425.27" font-size="23.24" font-weight="bold" font-style="normal" fill="#000" textLength="25.85" lengthAdjust="spacingAndGlyphs">50</text>
<text x="795.86" y="425.27" font-size="23.24" font-weight="bold" font-style="normal" fill="#000" textLength="25.85" lengthAdjust="spacingAndGlyphs">60</text>
<text x="927.40" y="425.27" font-size="23.24" font-weight="bold" font-style="normal" fill="#000" textLength="25.85" lengthAdjust="spacingAndGlyphs">70</text>
<text x="443.26" y="460.95" font-size="24.06" font-weight="bold" font-style="normal" fill="#000" textLength="123.41" lengthAdjust="spacingAndGlyphs">Time (min)</text>
<text x="47.28" y="552.83" font-size="31.76" font-weight="bold" font-style="normal" fill="#000" textLength="41.94" lengthAdjust="spacingAndGlyphs">(e)</text>
<path d="M89.70,832.00V794.38H93.30V832.00Z M93.30,832.00V788.26H96.90V832.00Z M96.90,832.00V792.96H101.10V832.00Z M101.10,832.00V795.19H105.30V832.00Z M105.30,832.00V790.35H107.50V832.00Z M107.50,832.00V791.90H109.70V832.00Z M109.70,832.00V794.63H113.30V832.00Z M113.30,832.00V790.80H115.90V832.00Z M115.90,832.00V792.05H120.10V832.00Z M120.10,832.00V780.48H124.30V832.00Z M124.30,832.00V786.81H127.90V832.00Z M127.90,832.00V790.72H130.10V832.00Z M130.10,832.00V790.23H133.70V832.00Z M133.70,832.00V789.64H135.90V832.00Z M135.90,832.00V779.69H138.90V832.00Z M138.90,832.00V788.86H141.10V832.00Z M141.10,832.00V787.31H144.10V832.00Z M144.10,832.00V788.49H146.30V832.00Z M146.30,832.00V785.44H148.50V832.00Z M148.50,832.00V792.66H150.70V832.00Z M150.70,832.00V781.48H153.30V832.00Z M153.30,832.00V789.78H156.90V832.00Z M156.90,832.00V782.53H159.10V832.00Z M159.10,832.00V789.28H162.70V832.00Z M162.70,832.00V785.12H166.30V832.00Z M166.30,832.00V791.14H169.90V832.00Z M169.90,832.00V772.17H172.10V832.00Z M172.10,832.00V795.60H176.30V832.00Z M176.30,832.00V792.04H178.50V832.00Z M178.50,832.00V786.69H182.70V832.00Z M182.70,832.00V791.22H185.30V832.00Z M185.30,832.00V791.61H188.30V832.00Z M188.30,832.00V788.95H190.50V832.00Z M190.50,832.00V793.06H193.50V832.00Z M193.50,832.00V793.95H196.10V832.00Z M196.10,832.00V788.09H199.70V832.00Z M199.70,832.00V786.49H202.30V832.00Z M202.30,832.00V783.23H206.50V832.00Z M206.50,832.00V787.47H210.10V832.00Z M210.10,832.00V784.58H213.10V832.00Z M213.10,832.00V787.31H216.10V832.00Z M216.10,832.00V788.18H220.30V832.00Z M220.30,832.00V793.26H222.50V832.00Z M222.50,832.00V793.29H226.70V832.00Z M226.70,832.00V792.64H229.70V832.00Z M229.70,832.00V792.02H231.90V832.00Z M231.90,832.00V793.21H234.10V832.00Z M234.10,832.00V783.05H236.70V832.00Z M236.70,832.00V794.69H240.30V832.00Z M240.30,832.00V791.11H244.50V832.00Z M244.50,832.00V791.91H248.70V832.00Z M248.70,832.00V791.59H251.70V832.00Z M251.70,832.00V780.62H253.90V832.00Z M253.90,832.00V791.00H256.50V832.00Z M256.50,832.00V774.93H258.70V832.00Z M258.70,832.00V792.11H261.30V832.00Z M261.30,832.00V789.50H264.30V832.00Z M264.30,832.00V794.18H267.90V832.00Z M267.90,832.00V793.38H270.10V832.00Z M270.10,832.00V789.33H273.70V832.00Z M273.70,832.00V790.80H275.90V832.00Z M275.90,832.00V790.93H278.90V832.00Z M278.90,832.00V788.76H281.90V832.00Z M281.90,832.00V793.81H285.50V832.00Z M285.50,832.00V782.46H289.70V832.00Z M289.70,832.00V778.64H293.30V832.00Z M293.30,832.00V788.46H295.50V832.00Z M295.50,832.00V791.55H298.50V832.00Z M298.50,832.00V787.61H301.50V832.00Z M301.50,832.00V798.64H304.50V832.00Z M304.50,832.00V793.86H308.10V832.00Z M308.10,832.00V791.36H311.10V832.00Z M311.10,832.00V797.08H313.70V832.00Z M313.70,832.00V791.35H316.70V832.00Z M316.70,832.00V797.72H319.70V832.00Z M319.70,832.00V791.85H322.70V832.00Z M322.70,832.00V789.75H324.90V832.00Z M324.90,832.00V796.04H329.10V832.00Z M329.10,832.00V794.61H332.10V832.00Z M332.10,832.00V783.15H335.10V832.00Z M335.10,832.00V798.84H339.30V832.00Z M339.30,832.00V796.39H342.30V832.00Z M342.30,832.00V796.68H346.50V832.00Z M346.50,832.00V795.64H348.70V832.00Z M348.70,832.00V783.19H351.70V832.00Z M351.70,832.00V792.03H355.30V832.00Z M355.30,832.00V794.35H358.30V832.00Z M358.30,832.00V794.64H360.90V832.00Z M360.90,832.00V789.02H364.50V832.00Z M364.50,832.00V795.37H368.70V832.00Z M368.70,832.00V781.80H372.90V832.00Z M372.90,832.00V780.95H375.50V832.00Z M375.50,832.00V797.16H379.10V832.00Z M379.10,832.00V797.26H381.30V832.00Z M381.30,832.00V794.01H385.50V832.00Z M385.50,832.00V793.37H388.50V832.00Z M388.50,832.00V799.09H391.10V832.00Z M391.10,832.00V791.57H393.30V832.00Z M393.30,832.00V798.20H395.50V832.00Z M395.50,832.00V789.52H398.50V832.00Z M398.50,832.00V794.97H400.70V832.00Z M400.70,832.00V796.24H404.90V832.00Z M404.90,832.00V794.97H407.90V832.00Z M407.90,832.00V795.54H410.10V832.00Z M410.10,832.00V796.43H412.30V832.00Z M412.30,832.00V797.26H414.90V832.00Z M414.90,832.00V797.66H419.10V832.00Z M419.10,832.00V793.94H422.70V832.00Z M422.70,832.00V792.54H426.30V832.00Z M426.30,832.00V793.90H429.90V832.00Z M429.90,832.00V792.31H432.90V832.00Z M432.90,832.00V787.68H437.10V832.00Z M437.10,832.00V796.61H441.30V832.00Z M441.30,832.00V797.05H445.50V832.00Z M445.50,832.00V796.11H449.10V832.00Z M449.10,832.00V799.15H451.30V832.00Z M451.30,832.00V798.18H453.50V832.00Z M453.50,832.00V798.36H457.70V832.00Z M457.70,832.00V804.82H460.30V832.00Z M460.30,832.00V799.83H463.90V832.00Z M463.90,832.00V801.64H466.50V832.00Z M466.50,832.00V808.95H470.10V832.00Z M470.10,832.00V807.13H472.30V832.00Z M472.30,832.00V809.54H474.90V832.00Z M474.90,832.00V798.73H477.10V832.00Z M477.10,832.00V803.92H480.10V832.00Z M480.10,832.00V808.90H483.70V832.00Z M483.70,832.00V808.99H485.00V832.00Z M483.50,832.00V816.00H485.30V832.00Z" fill="#000"/>
<rect x="93.30" y="777.00" width="3.40" height="55.00" fill="#000"/>
<rect x="124.30" y="771.00" width="3.40" height="61.00" fill="#000"/>
<rect x="133.30" y="777.00" width="3.40" height="55.00" fill="#000"/>
<rect x="147.10" y="696.00" width="3.80" height="136.00" fill="#000"/>
<rect x="150.10" y="720.00" width="3.80" height="112.00" fill="#000"/>
<rect x="158.30" y="777.00" width="3.40" height="55.00" fill="#000"/>
<rect x="178.10" y="718.00" width="3.80" height="114.00" fill="#000"/>
<rect x="183.10" y="697.00" width="3.80" height="135.00" fill="#000"/>
<rect x="187.30" y="770.00" width="3.40" height="62.00" fill="#000"/>
<rect x="203.60" y="563.30" width="3.80" height="268.70" fill="#000"/>
<rect x="208.30" y="754.00" width="3.40" height="78.00" fill="#000"/>
<rect x="210.60" y="733.00" width="3.80" height="99.00" fill="#000"/>
<rect x="216.30" y="766.00" width="3.40" height="66.00" fill="#000"/>
<rect x="225.80" y="765.00" width="3.40" height="67.00" fill="#000"/>
<rect x="235.30" y="781.00" width="3.40" height="51.00" fill="#000"/>
<rect x="251.10" y="776.00" width="3.40" height="56.00" fill="#000"/>
<rect x="256.30" y="758.00" width="3.40" height="74.00" fill="#000"/>
<rect x="265.90" y="787.00" width="3.40" height="45.00" fill="#000"/>
<rect x="285.50" y="755.90" width="3.40" height="76.10" fill="#000"/>
<rect x="293.10" y="770.00" width="3.40" height="62.00" fill="#000"/>
<rect x="317.30" y="762.60" width="3.40" height="69.40" fill="#000"/>
<rect x="332.60" y="781.50" width="3.40" height="50.50" fill="#000"/>
<rect x="345.30" y="744.60" width="3.40" height="87.40" fill="#000"/>
<rect x="356.30" y="766.70" width="3.40" height="65.30" fill="#000"/>
<rect x="376.70" y="753.40" width="3.40" height="78.60" fill="#000"/>
<rect x="384.50" y="759.00" width="3.40" height="73.00" fill="#000"/>
<rect x="391.70" y="781.50" width="3.40" height="50.50" fill="#000"/>
<rect x="407.50" y="790.70" width="3.40" height="41.30" fill="#000"/>
<rect x="417.60" y="670.40" width="3.80" height="161.60" fill="#000"/>
<rect x="427.00" y="787.70" width="3.40" height="44.30" fill="#000"/>
<rect x="444.30" y="790.70" width="3.40" height="41.30" fill="#000"/>
<rect x="456.10" y="676.30" width="3.80" height="155.70" fill="#000"/>
<rect x="461.80" y="787.00" width="3.40" height="45.00" fill="#000"/>
<rect x="480.30" y="806.00" width="3.40" height="26.00" fill="#000"/>
<rect x="89.70" y="828.20" width="396.30" height="3.80" fill="#000"/>
<rect x="90.10" y="828.20" width="3.40" height="11.50" fill="#000"/>
<rect x="109.72" y="828.20" width="3.40" height="9.10" fill="#000"/>
<rect x="129.35" y="828.20" width="3.40" height="9.10" fill="#000"/>
<rect x="148.98" y="828.20" width="3.40" height="9.10" fill="#000"/>
<rect x="168.60" y="828.20" width="3.40" height="11.50" fill="#000"/>
<rect x="188.23" y="828.20" width="3.40" height="9.10" fill="#000"/>
<rect x="207.85" y="828.20" width="3.40" height="9.10" fill="#000"/>
<rect x="227.48" y="828.20" width="3.40" height="9.10" fill="#000"/>
<rect x="247.10" y="828.20" width="3.40" height="11.50" fill="#000"/>
<rect x="266.73" y="828.20" width="3.40" height="9.10" fill="#000"/>
<rect x="286.35" y="828.20" width="3.40" height="9.10" fill="#000"/>
<rect x="305.98" y="828.20" width="3.40" height="9.10" fill="#000"/>
<rect x="325.60" y="828.20" width="3.40" height="11.50" fill="#000"/>
<rect x="345.23" y="828.20" width="3.40" height="9.10" fill="#000"/>
<rect x="364.85" y="828.20" width="3.40" height="9.10" fill="#000"/>
<rect x="384.48" y="828.20" width="3.40" height="9.10" fill="#000"/>
<rect x="404.10" y="828.20" width="3.40" height="11.50" fill="#000"/>
<rect x="423.73" y="828.20" width="3.40" height="9.10" fill="#000"/>
<rect x="443.35" y="828.20" width="3.40" height="9.10" fill="#000"/>
<rect x="462.98" y="828.20" width="3.40" height="9.10" fill="#000"/>
<rect x="482.60" y="828.20" width="3.40" height="11.50" fill="#000"/>
<text x="150.58" y="862.47" font-size="22.68" font-weight="bold" font-style="normal" fill="#000" textLength="52.76" lengthAdjust="spacingAndGlyphs">1200</text>
<text x="307.14" y="862.47" font-size="22.68" font-weight="bold" font-style="normal" fill="#000" textLength="54.02" lengthAdjust="spacingAndGlyphs">1600</text>
<text x="465.70" y="862.47" font-size="22.68" font-weight="bold" font-style="normal" fill="#000" textLength="51.12" lengthAdjust="spacingAndGlyphs">2000</text>
<text x="273.85" y="883.55" font-size="22.42" font-weight="bold" font-style="italic" fill="#000" textLength="39.12" lengthAdjust="spacingAndGlyphs">m/z</text>
<text x="557.11" y="552.83" font-size="31.76" font-weight="bold" font-style="normal" fill="#000" textLength="43.29" lengthAdjust="spacingAndGlyphs">(g)</text>
<path d="M586.00,830.00V826.23H588.50V830.00Z M588.50,830.00V824.88H590.00V830.00Z M590.00,830.00V825.28H592.00V830.00Z M592.00,830.00V824.91H595.00V830.00Z M595.00,830.00V823.14H598.00V830.00Z M598.00,830.00V826.02H600.50V830.00Z M600.50,830.00V827.07H603.50V830.00Z M603.50,830.00V827.50H606.50V830.00Z M606.50,830.00V826.38H608.00V830.00Z M608.00,830.00V826.29H610.00V830.00Z M610.00,830.00V826.09H612.50V830.00Z M612.50,830.00V826.79H614.50V830.00Z M614.50,830.00V827.96H616.50V830.00Z M616.50,830.00V825.95H619.00V830.00Z M619.00,830.00V826.24H621.00V830.00Z M621.00,830.00V827.02H622.50V830.00Z M622.50,830.00V826.99H625.00V830.00Z M625.00,830.00V826.60H627.50V830.00Z M627.50,830.00V826.22H630.50V830.00Z M630.50,830.00V826.04H632.00V830.00Z M632.00,830.00V826.39H634.50V830.00Z M634.50,830.00V826.17H637.00V830.00Z M637.00,830.00V825.10H638.50V830.00Z M638.50,830.00V826.67H640.50V830.00Z M640.50,830.00V828.03H642.50V830.00Z M642.50,830.00V825.48H645.00V830.00Z M645.00,830.00V826.36H647.50V830.00Z M647.50,830.00V825.92H650.00V830.00Z M650.00,830.00V824.28H651.50V830.00Z M651.50,830.00V827.21H654.00V830.00Z M654.00,830.00V822.54H656.50V830.00Z M656.50,830.00V827.53H659.00V830.00Z M659.00,830.00V825.41H660.50V830.00Z M660.50,830.00V825.39H663.50V830.00Z M663.50,830.00V827.25H665.00V830.00Z M665.00,830.00V826.83H666.50V830.00Z M666.50,830.00V826.71H669.00V830.00Z M669.00,830.00V825.52H670.50V830.00Z M670.50,830.00V826.53H672.00V830.00Z M672.00,830.00V825.62H674.00V830.00Z M674.00,830.00V826.97H677.00V830.00Z M677.00,830.00V826.83H680.00V830.00Z M680.00,830.00V827.28H683.00V830.00Z M683.00,830.00V825.78H686.00V830.00Z M686.00,830.00V825.64H688.50V830.00Z M688.50,830.00V826.39H690.50V830.00Z M690.50,830.00V825.64H692.50V830.00Z M692.50,830.00V825.63H694.00V830.00Z M694.00,830.00V827.61H696.50V830.00Z M696.50,830.00V826.85H698.00V830.00Z M698.00,830.00V825.19H700.50V830.00Z M700.50,830.00V825.87H703.00V830.00Z M703.00,830.00V827.00H705.50V830.00Z M705.50,830.00V826.10H707.00V830.00Z M707.00,830.00V826.01H709.50V830.00Z M709.50,830.00V826.87H712.00V830.00Z M712.00,830.00V826.19H714.50V830.00Z M714.50,830.00V824.80H716.50V830.00Z M716.50,830.00V828.28H719.50V830.00Z M719.50,830.00V826.00H721.50V830.00Z M721.50,830.00V827.14H724.00V830.00Z M724.00,830.00V825.95H727.00V830.00Z M727.00,830.00V825.97H730.00V830.00Z M730.00,830.00V827.26H732.50V830.00Z M732.50,830.00V826.66H734.00V830.00Z M734.00,830.00V827.30H736.00V830.00Z M736.00,830.00V826.14H738.00V830.00Z M738.00,830.00V826.13H740.00V830.00Z M740.00,830.00V827.91H742.00V830.00Z M742.00,830.00V827.65H743.50V830.00Z M743.50,830.00V825.50H746.00V830.00Z M746.00,830.00V827.05H748.00V830.00Z M748.00,830.00V827.12H750.50V830.00Z M750.50,830.00V826.30H753.50V830.00Z M753.50,830.00V827.29H756.00V830.00Z M756.00,830.00V826.08H758.50V830.00Z M758.50,830.00V826.94H761.00V830.00Z M761.00,830.00V826.10H763.00V830.00Z M763.00,830.00V825.84H765.50V830.00Z M765.50,830.00V826.39H768.50V830.00Z M768.50,830.00V825.72H770.50V830.00Z M770.50,830.00V825.83H772.00V830.00Z M772.00,830.00V825.29H774.50V830.00Z M774.50,830.00V825.86H777.50V830.00Z M777.50,830.00V825.39H779.50V830.00Z M779.50,830.00V826.34H782.50V830.00Z M782.50,830.00V825.79H784.50V830.00Z M784.50,830.00V825.95H787.50V830.00Z M787.50,830.00V825.33H789.00V830.00Z M789.00,830.00V828.39H791.50V830.00Z M791.50,830.00V827.10H793.00V830.00Z M793.00,830.00V825.16H795.50V830.00Z M795.50,830.00V827.28H798.50V830.00Z M798.50,830.00V826.38H801.50V830.00Z M801.50,830.00V824.76H803.50V830.00Z M803.50,830.00V826.40H806.00V830.00Z M806.00,830.00V824.71H809.00V830.00Z M809.00,830.00V824.24H810.50V830.00Z M810.50,830.00V825.59H813.00V830.00Z M813.00,830.00V826.15H814.50V830.00Z M814.50,830.00V825.69H817.00V830.00Z M817.00,830.00V824.97H818.50V830.00Z M818.50,830.00V826.15H821.50V830.00Z M821.50,830.00V822.11H823.50V830.00Z M823.50,830.00V825.29H826.50V830.00Z M826.50,830.00V825.61H829.50V830.00Z M829.50,830.00V825.10H832.50V830.00Z M832.50,830.00V826.48H835.00V830.00Z M835.00,830.00V826.28H836.50V830.00Z M836.50,830.00V826.36H839.00V830.00Z M839.00,830.00V826.68H842.00V830.00Z M842.00,830.00V826.06H845.00V830.00Z M845.00,830.00V821.71H847.00V830.00Z M847.00,830.00V826.75H849.50V830.00Z M849.50,830.00V826.21H851.00V830.00Z M851.00,830.00V826.14H852.50V830.00Z M852.50,830.00V827.77H855.50V830.00Z M855.50,830.00V826.76H857.00V830.00Z M857.00,830.00V827.55H859.00V830.00Z M859.00,830.00V826.25H861.00V830.00Z M861.00,830.00V826.40H864.00V830.00Z M864.00,830.00V826.02H865.50V830.00Z M865.50,830.00V826.11H867.00V830.00Z M867.00,830.00V827.32H870.00V830.00Z M870.00,830.00V826.65H872.00V830.00Z M872.00,830.00V826.32H875.00V830.00Z M875.00,830.00V826.68H877.50V830.00Z M877.50,830.00V826.08H880.00V830.00Z M880.00,830.00V826.22H882.00V830.00Z M882.00,830.00V827.31H884.50V830.00Z M884.50,830.00V826.87H886.50V830.00Z M886.50,830.00V824.81H889.50V830.00Z M889.50,830.00V826.11H891.00V830.00Z M891.00,830.00V826.02H892.50V830.00Z M892.50,830.00V826.42H895.50V830.00Z M895.50,830.00V827.93H898.00V830.00Z M898.00,830.00V825.54H899.50V830.00Z M899.50,830.00V826.09H902.50V830.00Z M902.50,830.00V826.30H904.50V830.00Z M904.50,830.00V825.97H907.50V830.00Z M907.50,830.00V826.07H909.50V830.00Z M909.50,830.00V825.56H912.00V830.00Z M912.00,830.00V826.52H914.50V830.00Z M914.50,830.00V825.55H917.00V830.00Z M917.00,830.00V822.56H920.00V830.00Z M920.00,830.00V826.12H922.00V830.00Z M922.00,830.00V826.50H925.00V830.00Z M925.00,830.00V822.22H927.00V830.00Z M927.00,830.00V825.91H930.00V830.00Z M930.00,830.00V825.67H932.50V830.00Z M932.50,830.00V825.90H935.50V830.00Z M935.50,830.00V822.99H937.50V830.00Z M937.50,830.00V826.65H940.50V830.00Z M940.50,830.00V826.80H942.50V830.00Z M942.50,830.00V827.97H944.50V830.00Z M944.50,830.00V826.65H947.00V830.00Z M947.00,830.00V825.84H948.50V830.00Z M948.50,830.00V825.19H950.50V830.00Z M950.50,830.00V825.99H953.00V830.00Z M953.00,830.00V823.81H955.00V830.00Z M955.00,830.00V825.69H957.00V830.00Z M957.00,830.00V825.38H959.50V830.00Z M959.50,830.00V825.66H961.50V830.00Z M961.50,830.00V826.43H964.50V830.00Z M964.50,830.00V823.22H966.50V830.00Z M966.50,830.00V825.11H969.00V830.00Z M969.00,830.00V826.40H972.00V830.00Z M972.00,830.00V826.48H974.50V830.00Z M974.50,830.00V823.50H976.00V830.00Z M976.00,830.00V827.74H978.00V830.00Z M660.50,830.00V817.40H665.00V830.00Z M665.00,830.00V814.30H669.00V830.00Z M683.00,830.00V812.00H695.00V830.00Z M686.00,830.00V803.00H693.00V830.00Z M688.00,830.00V797.00H693.00V830.00Z" fill="#000"/>
<rect x="668.40" y="797.90" width="3.60" height="32.10" fill="#000"/>
<rect x="685.80" y="563.30" width="3.60" height="266.70" fill="#000"/>
<rect x="688.90" y="796.90" width="3.60" height="33.10" fill="#000"/>
<rect x="728.90" y="810.20" width="3.60" height="19.80" fill="#000"/>
<rect x="761.20" y="747.70" width="3.60" height="82.30" fill="#000"/>
<rect x="766.90" y="816.00" width="3.60" height="14.00" fill="#000"/>
<rect x="796.80" y="642.80" width="3.60" height="187.20" fill="#000"/>
<rect x="802.70" y="812.70" width="3.60" height="17.30" fill="#000"/>
<rect x="837.00" y="782.30" width="3.60" height="47.70" fill="#000"/>
<rect x="885.80" y="744.80" width="3.60" height="85.20" fill="#000"/>
<rect x="585.00" y="827.90" width="395.50" height="4.00" fill="#000"/>
<rect x="583.45" y="827.90" width="3.40" height="9.10" fill="#000"/>
<rect x="608.00" y="827.90" width="3.40" height="11.90" fill="#000"/>
<rect x="632.55" y="827.90" width="3.40" height="9.10" fill="#000"/>
<rect x="657.10" y="827.90" width="3.40" height="9.10" fill="#000"/>
<rect x="681.65" y="827.90" width="3.40" height="9.10" fill="#000"/>
<rect x="706.20" y="827.90" width="3.40" height="9.10" fill="#000"/>
<rect x="730.75" y="827.90" width="3.40" height="11.90" fill="#000"/>
<rect x="755.30" y="827.90" width="3.40" height="9.10" fill="#000"/>
<rect x="779.85" y="827.90" width="3.40" height="9.10" fill="#000"/>
<rect x="804.40" y="827.90" width="3.40" height="9.10" fill="#000"/>
<rect x="828.95" y="827.90" width="3.40" height="9.10" fill="#000"/>
<rect x="853.50" y="827.90" width="3.40" height="11.90" fill="#000"/>
<rect x="878.05" y="827.90" width="3.40" height="9.10" fill="#000"/>
<rect x="902.60" y="827.90" width="3.40" height="9.10" fill="#000"/>
<rect x="927.15" y="827.90" width="3.40" height="9.10" fill="#000"/>
<rect x="951.70" y="827.90" width="3.40" height="9.10" fill="#000"/>
<rect x="976.25" y="827.90" width="3.40" height="11.90" fill="#000"/>
<text x="594.68" y="862.67" font-size="22.96" font-weight="bold" font-style="normal" fill="#000" textLength="40.07" lengthAdjust="spacingAndGlyphs">500</text>
<text x="712.91" y="862.67" font-size="22.96" font-weight="bold" font-style="normal" fill="#000" textLength="51.51" lengthAdjust="spacingAndGlyphs">1000</text>
<text x="837.09" y="862.67" font-size="22.96" font-weight="bold" font-style="normal" fill="#000" textLength="52.24" lengthAdjust="spacingAndGlyphs">1500</text>
<text x="959.05" y="862.67" font-size="22.96" font-weight="bold" font-style="normal" fill="#000" textLength="53.91" lengthAdjust="spacingAndGlyphs">2000</text>
<text x="767.85" y="883.75" font-size="22.68" font-weight="bold" font-style="italic" fill="#000" textLength="39.22" lengthAdjust="spacingAndGlyphs">m/z</text>
<text x="50.74" y="973.81" font-size="31.87" font-weight="bold" font-style="normal" fill="#000" textLength="35.19" lengthAdjust="spacingAndGlyphs">(f)</text>
<path d="M89.00,1226.00V1220.47H91.00V1226.00Z M91.00,1226.00V1220.65H94.00V1226.00Z M94.00,1226.00V1218.93H95.50V1226.00Z M95.50,1226.00V1219.38H97.50V1226.00Z M97.50,1226.00V1219.53H100.50V1226.00Z M100.50,1226.00V1220.61H102.50V1226.00Z M102.50,1226.00V1221.99H104.50V1226.00Z M104.50,1226.00V1219.92H106.00V1226.00Z M106.00,1226.00V1220.90H107.50V1226.00Z M107.50,1226.00V1221.29H110.50V1226.00Z M110.50,1226.00V1220.40H113.50V1226.00Z M113.50,1226.00V1218.36H116.50V1226.00Z M116.50,1226.00V1221.39H118.50V1226.00Z M118.50,1226.00V1220.63H120.50V1226.00Z M120.50,1226.00V1221.43H123.50V1226.00Z M123.50,1226.00V1218.68H126.50V1226.00Z M126.50,1226.00V1218.76H129.50V1226.00Z M129.50,1226.00V1219.69H131.00V1226.00Z M131.00,1226.00V1220.66H133.00V1226.00Z M133.00,1226.00V1219.99H134.50V1226.00Z M134.50,1226.00V1218.60H136.50V1226.00Z M136.50,1226.00V1212.94H138.00V1226.00Z M138.00,1226.00V1222.83H141.00V1226.00Z M141.00,1226.00V1218.43H143.00V1226.00Z M143.00,1226.00V1221.25H146.00V1226.00Z M146.00,1226.00V1220.74H147.50V1226.00Z M147.50,1226.00V1218.43H150.00V1226.00Z M150.00,1226.00V1220.15H152.00V1226.00Z M152.00,1226.00V1221.57H154.50V1226.00Z M154.50,1226.00V1221.03H156.50V1226.00Z M156.50,1226.00V1214.99H159.00V1226.00Z M159.00,1226.00V1220.55H161.50V1226.00Z M161.50,1226.00V1221.93H163.50V1226.00Z M163.50,1226.00V1220.29H166.50V1226.00Z M166.50,1226.00V1218.92H168.00V1226.00Z M168.00,1226.00V1219.05H171.00V1226.00Z M171.00,1226.00V1222.19H173.00V1226.00Z M173.00,1226.00V1220.50H175.50V1226.00Z M175.50,1226.00V1221.85H177.00V1226.00Z M177.00,1226.00V1217.55H180.00V1226.00Z M180.00,1226.00V1222.57H182.00V1226.00Z M182.00,1226.00V1221.62H184.50V1226.00Z M184.50,1226.00V1216.28H187.00V1226.00Z M187.00,1226.00V1220.75H189.50V1226.00Z M189.50,1226.00V1220.51H192.50V1226.00Z M192.50,1226.00V1222.55H194.50V1226.00Z M194.50,1226.00V1221.52H197.00V1226.00Z M197.00,1226.00V1220.22H198.50V1226.00Z M198.50,1226.00V1222.79H200.00V1226.00Z M200.00,1226.00V1220.67H202.00V1226.00Z M202.00,1226.00V1221.05H204.50V1226.00Z M204.50,1226.00V1218.48H206.00V1226.00Z M206.00,1226.00V1220.61H208.50V1226.00Z M208.50,1226.00V1215.27H210.50V1226.00Z M210.50,1226.00V1221.99H212.50V1226.00Z M212.50,1226.00V1214.30H214.00V1226.00Z M214.00,1226.00V1221.80H216.50V1226.00Z M216.50,1226.00V1218.85H219.00V1226.00Z M219.00,1226.00V1221.38H220.50V1226.00Z M220.50,1226.00V1219.96H223.00V1226.00Z M223.00,1226.00V1219.34H225.50V1226.00Z M225.50,1226.00V1217.72H228.50V1226.00Z M228.50,1226.00V1223.87H230.50V1226.00Z M230.50,1226.00V1221.08H233.50V1226.00Z M233.50,1226.00V1222.30H235.50V1226.00Z M235.50,1226.00V1221.27H238.00V1226.00Z M238.00,1226.00V1222.53H240.00V1226.00Z M240.00,1226.00V1219.19H241.50V1226.00Z M241.50,1226.00V1223.11H243.00V1226.00Z M243.00,1226.00V1221.47H245.00V1226.00Z M245.00,1226.00V1220.83H248.00V1226.00Z M248.00,1226.00V1220.91H250.00V1226.00Z M250.00,1226.00V1220.24H252.00V1226.00Z M252.00,1226.00V1219.75H253.50V1226.00Z M253.50,1226.00V1222.47H256.00V1226.00Z M256.00,1226.00V1220.74H257.50V1226.00Z M257.50,1226.00V1219.85H259.50V1226.00Z M259.50,1226.00V1222.74H262.00V1226.00Z M262.00,1226.00V1221.07H264.00V1226.00Z M264.00,1226.00V1217.78H267.00V1226.00Z M267.00,1226.00V1216.64H269.50V1226.00Z M269.50,1226.00V1220.02H271.00V1226.00Z M271.00,1226.00V1221.37H273.00V1226.00Z M273.00,1226.00V1221.11H274.50V1226.00Z M274.50,1226.00V1219.61H276.00V1226.00Z M276.00,1226.00V1220.87H277.50V1226.00Z M277.50,1226.00V1220.03H280.50V1226.00Z M280.50,1226.00V1220.41H283.00V1226.00Z M283.00,1226.00V1219.21H285.00V1226.00Z M285.00,1226.00V1220.35H286.50V1226.00Z M286.50,1226.00V1219.86H288.00V1226.00Z M288.00,1226.00V1222.17H291.00V1226.00Z M291.00,1226.00V1220.09H292.50V1226.00Z M292.50,1226.00V1220.11H295.50V1226.00Z M295.50,1226.00V1219.38H298.00V1226.00Z M298.00,1226.00V1221.88H300.00V1226.00Z M300.00,1226.00V1220.84H302.50V1226.00Z M302.50,1226.00V1220.56H305.50V1226.00Z M305.50,1226.00V1222.07H307.00V1226.00Z M307.00,1226.00V1220.55H309.50V1226.00Z M309.50,1226.00V1222.81H311.00V1226.00Z M311.00,1226.00V1220.27H314.00V1226.00Z M314.00,1226.00V1220.48H316.50V1226.00Z M316.50,1226.00V1220.78H318.00V1226.00Z M318.00,1226.00V1218.66H320.00V1226.00Z M320.00,1226.00V1220.64H323.00V1226.00Z M323.00,1226.00V1217.26H324.50V1226.00Z M324.50,1226.00V1222.97H327.50V1226.00Z M327.50,1226.00V1214.04H330.00V1226.00Z M330.00,1226.00V1214.98H332.00V1226.00Z M332.00,1226.00V1218.70H333.50V1226.00Z M333.50,1226.00V1220.25H335.00V1226.00Z M335.00,1226.00V1220.20H337.00V1226.00Z M337.00,1226.00V1219.95H340.00V1226.00Z M340.00,1226.00V1222.42H343.00V1226.00Z M343.00,1226.00V1220.43H346.00V1226.00Z M346.00,1226.00V1222.74H349.00V1226.00Z M349.00,1226.00V1218.39H352.00V1226.00Z M352.00,1226.00V1216.55H355.00V1226.00Z M355.00,1226.00V1220.59H358.00V1226.00Z M358.00,1226.00V1222.31H360.00V1226.00Z M360.00,1226.00V1222.51H362.50V1226.00Z M362.50,1226.00V1219.88H365.00V1226.00Z M365.00,1226.00V1218.92H367.50V1226.00Z M367.50,1226.00V1222.36H370.00V1226.00Z M370.00,1226.00V1221.20H372.00V1226.00Z M372.00,1226.00V1220.09H374.00V1226.00Z M374.00,1226.00V1222.86H377.00V1226.00Z M377.00,1226.00V1218.77H379.00V1226.00Z M379.00,1226.00V1221.45H380.50V1226.00Z M380.50,1226.00V1221.75H382.00V1226.00Z M382.00,1226.00V1220.05H383.50V1226.00Z M383.50,1226.00V1222.34H385.50V1226.00Z M385.50,1226.00V1219.90H387.00V1226.00Z M387.00,1226.00V1221.04H389.50V1226.00Z M389.50,1226.00V1221.78H391.50V1226.00Z M391.50,1226.00V1221.74H393.00V1226.00Z M393.00,1226.00V1220.46H395.50V1226.00Z M395.50,1226.00V1215.60H397.00V1226.00Z M397.00,1226.00V1216.69H399.50V1226.00Z M399.50,1226.00V1222.08H402.00V1226.00Z M402.00,1226.00V1216.47H405.00V1226.00Z M405.00,1226.00V1216.74H408.00V1226.00Z M408.00,1226.00V1216.40H411.00V1226.00Z M411.00,1226.00V1223.34H413.50V1226.00Z M413.50,1226.00V1222.63H416.00V1226.00Z M416.00,1226.00V1220.07H418.50V1226.00Z M418.50,1226.00V1213.70H421.00V1226.00Z M421.00,1226.00V1216.33H423.50V1226.00Z M423.50,1226.00V1216.51H426.00V1226.00Z M426.00,1226.00V1219.82H428.00V1226.00Z M428.00,1226.00V1219.46H430.50V1226.00Z M430.50,1226.00V1222.99H433.50V1226.00Z M433.50,1226.00V1222.94H436.00V1226.00Z M436.00,1226.00V1219.37H439.00V1226.00Z M439.00,1226.00V1220.41H441.50V1226.00Z M441.50,1226.00V1221.59H443.00V1226.00Z M443.00,1226.00V1221.47H446.00V1226.00Z M446.00,1226.00V1220.95H448.50V1226.00Z M448.50,1226.00V1221.39H451.50V1226.00Z M451.50,1226.00V1220.51H453.50V1226.00Z M453.50,1226.00V1219.64H456.50V1226.00Z M456.50,1226.00V1216.52H458.00V1226.00Z M458.00,1226.00V1222.86H459.50V1226.00Z M459.50,1226.00V1221.31H461.00V1226.00Z M461.00,1226.00V1221.71H464.00V1226.00Z M464.00,1226.00V1220.43H466.00V1226.00Z M466.00,1226.00V1220.63H468.00V1226.00Z M468.00,1226.00V1220.27H470.00V1226.00Z M470.00,1226.00V1215.45H472.50V1226.00Z M472.50,1226.00V1222.12H475.50V1226.00Z M475.50,1226.00V1220.63H478.00V1226.00Z M478.00,1226.00V1219.65H480.50V1226.00Z M480.50,1226.00V1214.89H482.00V1226.00Z M482.00,1226.00V1219.54H484.00V1226.00Z M172.00,1226.00V1214.00H190.00V1226.00Z M176.00,1226.00V1210.00H186.00V1226.00Z M320.00,1226.00V1216.00H346.00V1226.00Z M322.00,1226.00V1212.00H338.00V1226.00Z M362.00,1226.00V1215.00H375.00V1226.00Z M364.00,1226.00V1211.00H372.00V1226.00Z M411.00,1226.00V1195.00H418.00V1226.00Z M411.00,1226.00V1205.00H423.00V1226.00Z M411.00,1226.00V1212.30H428.00V1226.00Z M411.00,1226.00V1219.60H433.00V1226.00Z M411.00,1226.00V1221.00H440.00V1226.00Z" fill="#000"/>
<rect x="160.50" y="1210.80" width="3.60" height="15.20" fill="#000"/>
<rect x="171.60" y="1203.70" width="3.60" height="22.30" fill="#000"/>
<rect x="177.00" y="1208.00" width="3.60" height="18.00" fill="#000"/>
<rect x="182.40" y="1210.00" width="3.60" height="16.00" fill="#000"/>
<rect x="187.80" y="1216.60" width="3.60" height="9.40" fill="#000"/>
<rect x="195.90" y="1209.70" width="3.60" height="16.30" fill="#000"/>
<rect x="207.10" y="1219.80" width="3.60" height="6.20" fill="#000"/>
<rect x="235.00" y="1216.60" width="3.60" height="9.40" fill="#000"/>
<rect x="271.50" y="1214.40" width="3.60" height="11.60" fill="#000"/>
<rect x="284.30" y="1213.50" width="3.60" height="12.50" fill="#000"/>
<rect x="310.50" y="1212.80" width="3.60" height="13.20" fill="#000"/>
<rect x="320.70" y="1207.40" width="3.60" height="18.60" fill="#000"/>
<rect x="359.80" y="1170.80" width="3.60" height="55.20" fill="#000"/>
<rect x="369.50" y="1210.60" width="3.60" height="15.40" fill="#000"/>
<rect x="409.50" y="958.75" width="3.60" height="267.25" fill="#000"/>
<rect x="88.70" y="1223.00" width="396.40" height="4.30" fill="#000"/>
<rect x="89.00" y="1223.00" width="3.40" height="12.30" fill="#000"/>
<rect x="113.53" y="1223.00" width="3.40" height="8.60" fill="#000"/>
<rect x="138.06" y="1223.00" width="3.40" height="8.60" fill="#000"/>
<rect x="162.59" y="1223.00" width="3.40" height="8.60" fill="#000"/>
<rect x="187.12" y="1223.00" width="3.40" height="12.30" fill="#000"/>
<rect x="211.65" y="1223.00" width="3.40" height="8.60" fill="#000"/>
<rect x="236.18" y="1223.00" width="3.40" height="8.60" fill="#000"/>
<rect x="260.71" y="1223.00" width="3.40" height="8.60" fill="#000"/>
<rect x="285.24" y="1223.00" width="3.40" height="12.30" fill="#000"/>
<rect x="309.77" y="1223.00" width="3.40" height="8.60" fill="#000"/>
<rect x="334.30" y="1223.00" width="3.40" height="8.60" fill="#000"/>
<rect x="358.83" y="1223.00" width="3.40" height="8.60" fill="#000"/>
<rect x="383.36" y="1223.00" width="3.40" height="12.30" fill="#000"/>
<rect x="407.89" y="1223.00" width="3.40" height="8.60" fill="#000"/>
<rect x="432.42" y="1223.00" width="3.40" height="8.60" fill="#000"/>
<rect x="456.95" y="1223.00" width="3.40" height="8.60" fill="#000"/>
<rect x="481.48" y="1223.00" width="3.40" height="12.30" fill="#000"/>
<text x="75.07" y="1258.37" font-size="23.38" font-weight="bold" font-style="normal" fill="#000" textLength="40.48" lengthAdjust="spacingAndGlyphs">800</text>
<text x="168.74" y="1258.37" font-size="23.38" font-weight="bold" font-style="normal" fill="#000" textLength="54.02" lengthAdjust="spacingAndGlyphs">1000</text>
<text x="266.85" y="1258.37" font-size="23.38" font-weight="bold" font-style="normal" fill="#000" textLength="53.71" lengthAdjust="spacingAndGlyphs">1200</text>
<text x="363.25" y="1258.37" font-size="23.38" font-weight="bold" font-style="normal" fill="#000" textLength="53.71" lengthAdjust="spacingAndGlyphs">1400</text>
<text x="463.74" y="1258.37" font-size="23.38" font-weight="bold" font-style="normal" fill="#000" textLength="54.02" lengthAdjust="spacingAndGlyphs">1600</text>
<text x="272.85" y="1279.17" font-size="21.48" font-weight="bold" font-style="italic" fill="#000" textLength="38.81" lengthAdjust="spacingAndGlyphs">m/z</text>
<text x="556.88" y="970.41" font-size="31.87" font-weight="bold" font-style="normal" fill="#000" textLength="44.04" lengthAdjust="spacingAndGlyphs">(h)</text>
<path d="M586.00,1225.00V1220.90H589.00V1225.00Z M589.00,1225.00V1220.99H590.50V1225.00Z M590.50,1225.00V1221.83H593.50V1225.00Z M593.50,1225.00V1221.26H595.00V1225.00Z M595.00,1225.00V1221.18H597.00V1225.00Z M597.00,1225.00V1220.45H599.00V1225.00Z M599.00,1225.00V1222.41H600.50V1225.00Z M600.50,1225.00V1222.26H602.00V1225.00Z M602.00,1225.00V1222.01H605.00V1225.00Z M605.00,1225.00V1219.47H607.00V1225.00Z M607.00,1225.00V1222.82H610.00V1225.00Z M610.00,1225.00V1220.40H613.00V1225.00Z M613.00,1225.00V1222.15H614.50V1225.00Z M614.50,1225.00V1223.48H616.00V1225.00Z M616.00,1225.00V1221.97H619.00V1225.00Z M619.00,1225.00V1222.06H620.50V1225.00Z M620.50,1225.00V1222.45H622.00V1225.00Z M622.00,1225.00V1222.41H624.00V1225.00Z M624.00,1225.00V1223.00H625.50V1225.00Z M625.50,1225.00V1223.16H628.50V1225.00Z M628.50,1225.00V1220.62H630.50V1225.00Z M630.50,1225.00V1221.98H632.00V1225.00Z M632.00,1225.00V1222.14H634.00V1225.00Z M634.00,1225.00V1222.71H635.50V1225.00Z M635.50,1225.00V1221.45H637.50V1225.00Z M637.50,1225.00V1219.87H639.00V1225.00Z M639.00,1225.00V1222.20H642.00V1225.00Z M642.00,1225.00V1221.28H643.50V1225.00Z M643.50,1225.00V1221.82H645.00V1225.00Z M645.00,1225.00V1221.14H647.50V1225.00Z M647.50,1225.00V1222.27H650.50V1225.00Z M650.50,1225.00V1223.80H653.50V1225.00Z M653.50,1225.00V1221.99H656.00V1225.00Z M656.00,1225.00V1221.50H658.50V1225.00Z M658.50,1225.00V1221.21H660.00V1225.00Z M660.00,1225.00V1218.92H661.50V1225.00Z M661.50,1225.00V1219.93H664.50V1225.00Z M664.50,1225.00V1221.53H666.00V1225.00Z M666.00,1225.00V1222.89H668.00V1225.00Z M668.00,1225.00V1222.46H670.50V1225.00Z M670.50,1225.00V1222.42H673.00V1225.00Z M673.00,1225.00V1223.19H674.50V1225.00Z M674.50,1225.00V1221.45H676.50V1225.00Z M676.50,1225.00V1220.91H678.50V1225.00Z M678.50,1225.00V1218.29H680.50V1225.00Z M680.50,1225.00V1220.69H683.00V1225.00Z M683.00,1225.00V1221.78H685.50V1225.00Z M685.50,1225.00V1219.47H687.00V1225.00Z M687.00,1225.00V1219.97H690.00V1225.00Z M690.00,1225.00V1220.55H692.50V1225.00Z M692.50,1225.00V1220.18H695.50V1225.00Z M695.50,1225.00V1223.34H697.50V1225.00Z M697.50,1225.00V1222.43H699.00V1225.00Z M699.00,1225.00V1223.00H701.00V1225.00Z M701.00,1225.00V1220.45H704.00V1225.00Z M704.00,1225.00V1220.82H707.00V1225.00Z M707.00,1225.00V1215.20H709.50V1225.00Z M709.50,1225.00V1220.97H712.50V1225.00Z M712.50,1225.00V1222.44H714.00V1225.00Z M714.00,1225.00V1220.59H715.50V1225.00Z M715.50,1225.00V1222.74H717.50V1225.00Z M717.50,1225.00V1222.44H720.50V1225.00Z M720.50,1225.00V1221.39H722.00V1225.00Z M722.00,1225.00V1221.28H725.00V1225.00Z M725.00,1225.00V1221.69H728.00V1225.00Z M728.00,1225.00V1221.31H729.50V1225.00Z M729.50,1225.00V1217.89H732.50V1225.00Z M732.50,1225.00V1219.22H734.00V1225.00Z M734.00,1225.00V1220.41H737.00V1225.00Z M737.00,1225.00V1221.17H738.50V1225.00Z M738.50,1225.00V1223.98H741.00V1225.00Z M741.00,1225.00V1222.47H744.00V1225.00Z M744.00,1225.00V1222.76H746.00V1225.00Z M746.00,1225.00V1222.69H748.00V1225.00Z M748.00,1225.00V1222.53H750.00V1225.00Z M750.00,1225.00V1222.50H751.50V1225.00Z M751.50,1225.00V1221.81H753.00V1225.00Z M753.00,1225.00V1222.52H754.50V1225.00Z M754.50,1225.00V1220.96H757.00V1225.00Z M757.00,1225.00V1221.64H758.50V1225.00Z M758.50,1225.00V1222.76H761.50V1225.00Z M761.50,1225.00V1222.54H763.50V1225.00Z M763.50,1225.00V1222.49H766.00V1225.00Z M766.00,1225.00V1222.50H768.50V1225.00Z M768.50,1225.00V1223.33H771.50V1225.00Z M771.50,1225.00V1220.09H773.00V1225.00Z M773.00,1225.00V1221.94H776.00V1225.00Z M776.00,1225.00V1222.05H779.00V1225.00Z M779.00,1225.00V1222.31H780.50V1225.00Z M780.50,1225.00V1222.95H783.50V1225.00Z M783.50,1225.00V1222.32H785.50V1225.00Z M785.50,1225.00V1222.55H788.00V1225.00Z M788.00,1225.00V1222.52H790.00V1225.00Z M790.00,1225.00V1222.86H791.50V1225.00Z M791.50,1225.00V1223.06H794.50V1225.00Z M794.50,1225.00V1222.24H797.50V1225.00Z M797.50,1225.00V1223.06H800.00V1225.00Z M800.00,1225.00V1222.74H802.00V1225.00Z M802.00,1225.00V1222.48H804.50V1225.00Z M804.50,1225.00V1221.51H807.50V1225.00Z M807.50,1225.00V1222.69H810.00V1225.00Z M810.00,1225.00V1220.93H812.50V1225.00Z M812.50,1225.00V1222.19H814.50V1225.00Z M814.50,1225.00V1221.84H817.50V1225.00Z M817.50,1225.00V1221.89H820.50V1225.00Z M820.50,1225.00V1222.83H823.00V1225.00Z M823.00,1225.00V1222.73H825.50V1225.00Z M825.50,1225.00V1223.46H827.50V1225.00Z M827.50,1225.00V1222.04H829.00V1225.00Z M829.00,1225.00V1223.38H832.00V1225.00Z M832.00,1225.00V1222.36H833.50V1225.00Z M833.50,1225.00V1222.68H835.50V1225.00Z M835.50,1225.00V1222.39H837.50V1225.00Z M837.50,1225.00V1221.94H840.00V1225.00Z M840.00,1225.00V1221.85H841.50V1225.00Z M841.50,1225.00V1222.11H843.00V1225.00Z M843.00,1225.00V1222.55H845.50V1225.00Z M845.50,1225.00V1223.01H847.50V1225.00Z M847.50,1225.00V1220.49H850.50V1225.00Z M850.50,1225.00V1222.44H853.00V1225.00Z M853.00,1225.00V1221.78H854.50V1225.00Z M854.50,1225.00V1223.04H857.50V1225.00Z M857.50,1225.00V1221.35H859.50V1225.00Z M859.50,1225.00V1222.01H861.00V1225.00Z M861.00,1225.00V1223.05H863.50V1225.00Z M863.50,1225.00V1221.85H865.50V1225.00Z M865.50,1225.00V1222.97H867.00V1225.00Z M867.00,1225.00V1219.71H869.00V1225.00Z M869.00,1225.00V1222.15H871.00V1225.00Z M871.00,1225.00V1222.02H873.50V1225.00Z M873.50,1225.00V1223.22H875.00V1225.00Z M875.00,1225.00V1222.83H878.00V1225.00Z M878.00,1225.00V1222.02H879.50V1225.00Z M879.50,1225.00V1223.28H881.50V1225.00Z M881.50,1225.00V1222.90H884.50V1225.00Z M884.50,1225.00V1221.67H886.50V1225.00Z M886.50,1225.00V1222.89H888.00V1225.00Z M888.00,1225.00V1222.28H891.00V1225.00Z M891.00,1225.00V1221.81H892.50V1225.00Z M892.50,1225.00V1222.35H895.00V1225.00Z M895.00,1225.00V1220.67H897.50V1225.00Z M897.50,1225.00V1221.99H900.50V1225.00Z M900.50,1225.00V1222.42H902.00V1225.00Z M902.00,1225.00V1222.48H903.50V1225.00Z M903.50,1225.00V1222.45H906.00V1225.00Z M906.00,1225.00V1222.71H908.50V1225.00Z M908.50,1225.00V1221.91H911.00V1225.00Z M911.00,1225.00V1223.40H912.50V1225.00Z M912.50,1225.00V1222.69H914.50V1225.00Z M914.50,1225.00V1222.58H917.50V1225.00Z M917.50,1225.00V1222.83H919.00V1225.00Z M919.00,1225.00V1222.68H921.00V1225.00Z M921.00,1225.00V1221.43H923.00V1225.00Z M923.00,1225.00V1222.35H925.00V1225.00Z M925.00,1225.00V1222.30H927.50V1225.00Z M927.50,1225.00V1221.81H929.50V1225.00Z M929.50,1225.00V1222.33H932.00V1225.00Z M932.00,1225.00V1222.81H935.00V1225.00Z M935.00,1225.00V1222.84H936.50V1225.00Z M936.50,1225.00V1222.57H938.50V1225.00Z M938.50,1225.00V1222.22H941.00V1225.00Z M941.00,1225.00V1222.45H944.00V1225.00Z M944.00,1225.00V1222.63H946.00V1225.00Z M946.00,1225.00V1222.50H948.50V1225.00Z M948.50,1225.00V1222.33H950.00V1225.00Z M950.00,1225.00V1222.59H952.00V1225.00Z M952.00,1225.00V1222.46H955.00V1225.00Z M955.00,1225.00V1222.51H956.50V1225.00Z M956.50,1225.00V1222.61H958.00V1225.00Z M958.00,1225.00V1223.05H960.50V1225.00Z M960.50,1225.00V1222.59H962.50V1225.00Z M962.50,1225.00V1222.37H965.00V1225.00Z M965.00,1225.00V1222.66H968.00V1225.00Z M968.00,1225.00V1222.19H971.00V1225.00Z M971.00,1225.00V1222.99H973.50V1225.00Z M973.50,1225.00V1222.32H975.00V1225.00Z M975.00,1225.00V1222.49H978.00V1225.00Z M665.00,1225.00V1212.00H672.00V1225.00Z M665.00,1225.00V1217.00H677.00V1225.00Z M686.00,1225.00V1210.00H692.00V1225.00Z M686.00,1225.00V1215.00H697.00V1225.00Z M686.00,1225.00V1219.00H702.00V1225.00Z M711.00,1225.00V1213.00H717.00V1225.00Z M711.00,1225.00V1218.00H722.00V1225.00Z M632.00,1225.00V1219.00H640.00V1225.00Z M645.00,1225.00V1219.00H660.00V1225.00Z" fill="#000"/>
<rect x="635.20" y="1216.00" width="3.60" height="9.00" fill="#000"/>
<rect x="647.50" y="1213.10" width="3.60" height="11.90" fill="#000"/>
<rect x="664.10" y="1199.40" width="3.60" height="25.60" fill="#000"/>
<rect x="684.60" y="1197.50" width="3.60" height="27.50" fill="#000"/>
<rect x="709.80" y="958.90" width="3.60" height="266.10" fill="#000"/>
<rect x="782.70" y="1221.30" width="3.60" height="3.70" fill="#000"/>
<rect x="806.20" y="1221.00" width="3.60" height="4.00" fill="#000"/>
<rect x="809.40" y="1170.00" width="3.60" height="55.00" fill="#000"/>
<rect x="818.60" y="1221.00" width="3.60" height="4.00" fill="#000"/>
<rect x="844.60" y="1162.20" width="3.60" height="62.80" fill="#000"/>
<rect x="884.60" y="1199.70" width="3.60" height="25.30" fill="#000"/>
<rect x="934.10" y="1216.10" width="3.60" height="8.90" fill="#000"/>
<rect x="585.00" y="1222.90" width="395.50" height="4.10" fill="#000"/>
<rect x="583.45" y="1222.90" width="3.40" height="9.10" fill="#000"/>
<rect x="608.00" y="1222.90" width="3.40" height="11.90" fill="#000"/>
<rect x="632.55" y="1222.90" width="3.40" height="9.10" fill="#000"/>
<rect x="657.10" y="1222.90" width="3.40" height="9.10" fill="#000"/>
<rect x="681.65" y="1222.90" width="3.40" height="9.10" fill="#000"/>
<rect x="706.20" y="1222.90" width="3.40" height="9.10" fill="#000"/>
<rect x="730.75" y="1222.90" width="3.40" height="11.90" fill="#000"/>
<rect x="755.30" y="1222.90" width="3.40" height="9.10" fill="#000"/>
<rect x="779.85" y="1222.90" width="3.40" height="9.10" fill="#000"/>
<rect x="804.40" y="1222.90" width="3.40" height="9.10" fill="#000"/>
<rect x="828.95" y="1222.90" width="3.40" height="9.10" fill="#000"/>
<rect x="853.50" y="1222.90" width="3.40" height="11.90" fill="#000"/>
<rect x="878.05" y="1222.90" width="3.40" height="9.10" fill="#000"/>
<rect x="902.60" y="1222.90" width="3.40" height="9.10" fill="#000"/>
<rect x="927.15" y="1222.90" width="3.40" height="9.10" fill="#000"/>
<rect x="951.70" y="1222.90" width="3.40" height="9.10" fill="#000"/>
<rect x="976.25" y="1222.90" width="3.40" height="11.90" fill="#000"/>
<text x="594.88" y="1258.18" font-size="21.97" font-weight="bold" font-style="normal" fill="#000" textLength="39.86" lengthAdjust="spacingAndGlyphs">500</text>
<text x="711.37" y="1258.18" font-size="21.97" font-weight="bold" font-style="normal" fill="#000" textLength="53.18" lengthAdjust="spacingAndGlyphs">1000</text>
<text x="834.74" y="1258.18" font-size="21.97" font-weight="bold" font-style="normal" fill="#000" textLength="54.02" lengthAdjust="spacingAndGlyphs">1500</text>
<text x="958.86" y="1258.18" font-size="21.97" font-weight="bold" font-style="normal" fill="#000" textLength="53.60" lengthAdjust="spacingAndGlyphs">2000</text>
<text x="768.17" y="1279.56" font-size="22.01" font-weight="bold" font-style="italic" fill="#000" textLength="36.68" lengthAdjust="spacingAndGlyphs">m/z</text>
<text x="177.12" y="555.81" font-size="23.30" font-weight="bold" font-style="normal" fill="#000" textLength="51.15" lengthAdjust="spacingAndGlyphs">1291</text>
<rect x="176.20" y="558.90" width="55.00" height="2.20" fill="#000"/>
<rect x="238.20" y="521.10" width="72.10" height="10.90" fill="#d9d9d9" stroke="#555" stroke-width="1.4"/>
<text x="314.06" y="525.13" font-size="16.76" font-weight="bold" font-style="normal" fill="#000" textLength="20.26" lengthAdjust="spacingAndGlyphs">3+</text>
<line x1="262.30" y1="532.00" x2="262.30" y2="533.40" stroke="#111" stroke-width="2.2"/>
<line x1="262.30" y1="550.60" x2="262.30" y2="553.40" stroke="#111" stroke-width="2.2"/>
<line x1="262.30" y1="567.90" x2="262.30" y2="572.90" stroke="#111" stroke-width="2.2"/>
<rect x="253.95" y="533.40" width="16.70" height="17.20" fill="#4a7bc4" stroke="#1a1a2a" stroke-width="1.3"/>
<polygon points="262.30,552.40 271.55,558.67 268.04,568.90 256.56,568.90 253.05,558.67" fill="#4a7bc4" stroke="#1a1a2a" stroke-width="1.3" stroke-linejoin="round"/>
<ellipse cx="262.30" cy="581.70" rx="8.80" ry="8.80" fill="#f0913f" stroke="#1a1a2a" stroke-width="1.3"/>
<line x1="287.00" y1="532.00" x2="287.00" y2="533.40" stroke="#111" stroke-width="2.2"/>
<line x1="287.00" y1="550.60" x2="287.00" y2="553.40" stroke="#111" stroke-width="2.2"/>
<line x1="287.00" y1="567.90" x2="287.00" y2="572.90" stroke="#111" stroke-width="2.2"/>
<rect x="278.70" y="533.40" width="16.60" height="17.20" fill="#4a7bc4" stroke="#1a1a2a" stroke-width="1.3"/>
<polygon points="287.00,552.40 296.00,558.67 292.58,568.90 281.42,568.90 278.00,558.67" fill="#4a7bc4" stroke="#1a1a2a" stroke-width="1.3" stroke-linejoin="round"/>
<ellipse cx="287.00" cy="581.70" rx="8.60" ry="8.80" fill="#f0913f" stroke="#1a1a2a" stroke-width="1.3"/>
<rect x="424.00" y="556.60" width="71.20" height="10.60" fill="#d9d9d9" stroke="#555" stroke-width="1.4"/>
<text x="500.22" y="561.00" font-size="16.29" font-weight="bold" font-style="normal" fill="#000" textLength="19.06" lengthAdjust="spacingAndGlyphs">2+</text>
<line x1="447.30" y1="567.20" x2="447.30" y2="569.30" stroke="#111" stroke-width="2.2"/>
<line x1="447.30" y1="585.70" x2="447.30" y2="589.00" stroke="#111" stroke-width="2.2"/>
<line x1="447.30" y1="604.60" x2="447.30" y2="608.30" stroke="#111" stroke-width="2.2"/>
<rect x="438.90" y="569.30" width="16.80" height="16.40" fill="#4a7bc4" stroke="#1a1a2a" stroke-width="1.3"/>
<polygon points="447.30,588.00 456.30,594.69 452.88,605.60 441.72,605.60 438.30,594.69" fill="#4a7bc4" stroke="#1a1a2a" stroke-width="1.3" stroke-linejoin="round"/>
<ellipse cx="447.30" cy="616.80" rx="8.50" ry="8.50" fill="#f0913f" stroke="#1a1a2a" stroke-width="1.3"/>
<line x1="473.80" y1="567.20" x2="473.80" y2="569.30" stroke="#111" stroke-width="2.2"/>
<line x1="473.80" y1="585.70" x2="473.80" y2="589.00" stroke="#111" stroke-width="2.2"/>
<line x1="473.80" y1="604.60" x2="473.80" y2="608.30" stroke="#111" stroke-width="2.2"/>
<rect x="467.00" y="569.30" width="13.60" height="16.40" fill="#4a7bc4" stroke="#1a1a2a" stroke-width="1.3"/>
<polygon points="473.80,588.00 481.20,594.69 478.39,605.60 469.21,605.60 466.40,594.69" fill="#4a7bc4" stroke="#1a1a2a" stroke-width="1.3" stroke-linejoin="round"/>
<ellipse cx="473.80" cy="616.80" rx="7.40" ry="8.50" fill="#f0913f" stroke="#1a1a2a" stroke-width="1.3"/>
<text x="445.34" y="669.21" font-size="23.30" font-weight="bold" font-style="normal" fill="#000" textLength="54.27" lengthAdjust="spacingAndGlyphs">1935</text>
<rect x="446.30" y="671.10" width="54.40" height="2.20" fill="#000"/>
<text x="397.41" y="663.74" font-size="17.20" font-weight="normal" font-style="normal" fill="#000" textLength="41.14" lengthAdjust="spacingAndGlyphs">1834</text>
<text x="367.09" y="684.74" font-size="17.20" font-weight="normal" font-style="normal" fill="#000" textLength="41.86" lengthAdjust="spacingAndGlyphs">1753</text>
<text x="337.80" y="644.34" font-size="17.20" font-weight="normal" font-style="normal" fill="#000" textLength="41.44" lengthAdjust="spacingAndGlyphs">1680</text>
<text x="235.30" y="718.14" font-size="17.20" font-weight="normal" font-style="normal" fill="#000" textLength="41.65" lengthAdjust="spacingAndGlyphs">1426</text>
<text x="266.92" y="739.24" font-size="17.20" font-weight="normal" font-style="normal" fill="#000" textLength="40.90" lengthAdjust="spacingAndGlyphs">1499</text>
<text x="296.61" y="759.74" font-size="17.20" font-weight="normal" font-style="normal" fill="#000" textLength="41.22" lengthAdjust="spacingAndGlyphs">1579</text>
<line x1="256.60" y1="648.10" x2="256.60" y2="706.10" stroke="#a8a8a8" stroke-width="3" stroke-dasharray="19 6.5"/>
<line x1="286.80" y1="648.10" x2="286.80" y2="706.10" stroke="#a8a8a8" stroke-width="3" stroke-dasharray="19 6.5"/>
<line x1="317.20" y1="648.10" x2="317.20" y2="706.10" stroke="#a8a8a8" stroke-width="3" stroke-dasharray="19 6.5"/>
<line x1="358.00" y1="648.50" x2="358.00" y2="667.40" stroke="#a8a8a8" stroke-width="3"/>
<line x1="358.00" y1="673.60" x2="358.00" y2="708.70" stroke="#a8a8a8" stroke-width="3"/>
<line x1="358.00" y1="716.00" x2="358.00" y2="734.80" stroke="#a8a8a8" stroke-width="3"/>
<line x1="358.00" y1="741.00" x2="358.00" y2="749.00" stroke="#a8a8a8" stroke-width="3"/>
<line x1="388.20" y1="690.30" x2="388.20" y2="750.00" stroke="#a8a8a8" stroke-width="3" stroke-dasharray="19 6.5"/>
<line x1="419.00" y1="690.30" x2="419.00" y2="750.00" stroke="#b0b0b0" stroke-width="2.6" stroke-dasharray="19 6.5"/>
<line x1="257.40" y1="730.70" x2="257.40" y2="748.30" stroke="#6f8fc0" stroke-width="1.0"/>
<line x1="286.90" y1="743.00" x2="286.90" y2="760.00" stroke="#6f8fc0" stroke-width="1.0"/>
<rect x="263.10" y="663.10" width="16.30" height="16.30" fill="#4a7bc4" stroke="#1a1a2a" stroke-width="1.3"/>
<polygon points="302.10,662.20 311.00,668.89 307.62,679.80 296.58,679.80 293.20,668.89" fill="#4a7bc4" stroke="#1a1a2a" stroke-width="1.3" stroke-linejoin="round"/>
<ellipse cx="338.10" cy="671.00" rx="8.60" ry="8.60" fill="#f0913f" stroke="#1a1a2a" stroke-width="1.3"/>
<rect x="366.60" y="705.60" width="15.90" height="16.00" fill="#4a7bc4" stroke="#1a1a2a" stroke-width="1.3"/>
<polygon points="405.10,704.80 414.20,711.56 410.74,722.60 399.46,722.60 396.00,711.56" fill="#4a7bc4" stroke="#1a1a2a" stroke-width="1.3" stroke-linejoin="round"/>
<ellipse cx="441.00" cy="713.80" rx="9.00" ry="9.00" fill="#f0913f" stroke="#1a1a2a" stroke-width="1.3"/>
<text x="666.47" y="553.21" font-size="23.30" font-weight="bold" font-style="normal" fill="#000" textLength="40.48" lengthAdjust="spacingAndGlyphs">817</text>
<rect x="665.10" y="556.00" width="41.70" height="2.20" fill="#000"/>
<rect x="712.60" y="523.70" width="54.00" height="10.00" fill="#d9d9d9" stroke="#555" stroke-width="1.4"/>
<text x="778.88" y="527.80" font-size="15.86" font-weight="bold" font-style="normal" fill="#000" textLength="20.23" lengthAdjust="spacingAndGlyphs">2+</text>
<line x1="739.00" y1="533.70" x2="739.00" y2="536.90" stroke="#111" stroke-width="2.2"/>
<line x1="739.00" y1="552.40" x2="739.00" y2="556.60" stroke="#111" stroke-width="2.2"/>
<line x1="739.00" y1="571.10" x2="739.00" y2="576.10" stroke="#111" stroke-width="2.2"/>
<rect x="731.05" y="536.90" width="15.90" height="15.50" fill="#4a7bc4" stroke="#1a1a2a" stroke-width="1.3"/>
<polygon points="739.00,555.60 747.75,561.87 744.42,572.10 733.58,572.10 730.25,561.87" fill="#4a7bc4" stroke="#1a1a2a" stroke-width="1.3" stroke-linejoin="round"/>
<ellipse cx="739.00" cy="584.70" rx="8.60" ry="8.60" fill="#f0913f" stroke="#1a1a2a" stroke-width="1.3"/>
<text x="777.32" y="637.24" font-size="17.20" font-weight="normal" font-style="normal" fill="#000" textLength="40.90" lengthAdjust="spacingAndGlyphs">1269</text>
<text x="742.56" y="743.34" font-size="17.20" font-weight="normal" font-style="normal" fill="#000" textLength="41.21" lengthAdjust="spacingAndGlyphs">1123</text>
<text x="817.18" y="777.84" font-size="17.20" font-weight="normal" font-style="normal" fill="#000" textLength="42.06" lengthAdjust="spacingAndGlyphs">1429</text>
<text x="859.31" y="735.31" font-size="23.30" font-weight="bold" font-style="normal" fill="#000" textLength="55.17" lengthAdjust="spacingAndGlyphs">1632</text>
<rect x="858.40" y="737.30" width="55.60" height="2.20" fill="#000"/>
<rect x="623.00" y="733.70" width="16.50" height="15.60" fill="#4a7bc4" stroke="#1a1a2a" stroke-width="1.3"/>
<polygon points="652.20,710.80 661.20,717.41 657.78,728.20 646.62,728.20 643.20,717.41" fill="#4a7bc4" stroke="#1a1a2a" stroke-width="1.3" stroke-linejoin="round"/>
<ellipse cx="674.30" cy="706.00" rx="9.20" ry="9.20" fill="#f0913f" stroke="#1a1a2a" stroke-width="1.3"/>
<line x1="624.10" y1="757.90" x2="624.10" y2="815.30" stroke="#a8a8a8" stroke-width="3" stroke-dasharray="18.5 7"/>
<line x1="642.10" y1="757.90" x2="642.10" y2="815.30" stroke="#a8a8a8" stroke-width="3" stroke-dasharray="18.5 7"/>
<line x1="662.40" y1="757.90" x2="662.40" y2="815.30" stroke="#a8a8a8" stroke-width="3" stroke-dasharray="18.5 7"/>
<line x1="764.60" y1="648.50" x2="764.60" y2="706.00" stroke="#a8a8a8" stroke-width="3" stroke-dasharray="18.5 7"/>
<line x1="839.20" y1="648.50" x2="839.20" y2="706.00" stroke="#a8a8a8" stroke-width="3" stroke-dasharray="18.5 7"/>
<line x1="887.70" y1="648.50" x2="887.70" y2="706.00" stroke="#a8a8a8" stroke-width="3" stroke-dasharray="18.5 7"/>
<rect x="773.60" y="661.60" width="16.40" height="16.40" fill="#4a7bc4" stroke="#1a1a2a" stroke-width="1.3"/>
<polygon points="819.00,660.80 827.90,667.64 824.52,678.80 813.48,678.80 810.10,667.64" fill="#4a7bc4" stroke="#1a1a2a" stroke-width="1.3" stroke-linejoin="round"/>
<ellipse cx="860.80" cy="669.80" rx="9.00" ry="9.00" fill="#f0913f" stroke="#1a1a2a" stroke-width="1.3"/>
<rect x="913.50" y="683.80" width="53.20" height="9.90" fill="#d9d9d9" stroke="#555" stroke-width="1.4"/>
<text x="979.27" y="687.99" font-size="17.25" font-weight="bold" font-style="normal" fill="#000" textLength="10.64" lengthAdjust="spacingAndGlyphs">+</text>
<line x1="939.20" y1="693.70" x2="939.20" y2="697.20" stroke="#111" stroke-width="2.2"/>
<line x1="939.20" y1="712.40" x2="939.20" y2="716.50" stroke="#111" stroke-width="2.2"/>
<line x1="939.20" y1="731.30" x2="939.20" y2="736.00" stroke="#111" stroke-width="2.2"/>
<rect x="931.20" y="697.20" width="16.00" height="15.20" fill="#4a7bc4" stroke="#1a1a2a" stroke-width="1.3"/>
<polygon points="939.20,715.50 947.70,721.88 944.47,732.30 933.93,732.30 930.70,721.88" fill="#4a7bc4" stroke="#1a1a2a" stroke-width="1.3" stroke-linejoin="round"/>
<ellipse cx="939.20" cy="744.80" rx="8.80" ry="8.80" fill="#f0913f" stroke="#1a1a2a" stroke-width="1.3"/>
<text x="384.14" y="950.58" font-size="23.30" font-weight="bold" font-style="normal" fill="#000" textLength="53.97" lengthAdjust="spacingAndGlyphs">1454</text>
<rect x="384.40" y="953.30" width="54.60" height="2.20" fill="#000"/>
<rect x="439.50" y="914.20" width="71.90" height="10.50" fill="#d9d9d9" stroke="#555" stroke-width="1.4"/>
<text x="516.11" y="918.60" font-size="16.43" font-weight="bold" font-style="normal" fill="#000" textLength="19.16" lengthAdjust="spacingAndGlyphs">2+</text>
<line x1="463.00" y1="924.70" x2="463.00" y2="928.30" stroke="#111" stroke-width="2.2"/>
<line x1="463.00" y1="943.60" x2="463.00" y2="947.60" stroke="#111" stroke-width="2.2"/>
<line x1="463.00" y1="962.40" x2="463.00" y2="966.60" stroke="#111" stroke-width="2.2"/>
<rect x="454.40" y="928.30" width="17.20" height="15.30" fill="#4a7bc4" stroke="#1a1a2a" stroke-width="1.3"/>
<polygon points="463.00,946.60 472.00,952.98 468.58,963.40 457.42,963.40 454.00,952.98" fill="#4a7bc4" stroke="#1a1a2a" stroke-width="1.3" stroke-linejoin="round"/>
<ellipse cx="463.00" cy="975.60" rx="9.00" ry="9.00" fill="#f0913f" stroke="#1a1a2a" stroke-width="1.3"/>
<line x1="489.20" y1="924.70" x2="489.20" y2="928.30" stroke="#111" stroke-width="2.2"/>
<line x1="489.20" y1="943.60" x2="489.20" y2="947.60" stroke="#111" stroke-width="2.2"/>
<line x1="489.20" y1="962.40" x2="489.20" y2="966.60" stroke="#111" stroke-width="2.2"/>
<rect x="482.20" y="928.30" width="14.00" height="15.30" fill="#4a7bc4" stroke="#1a1a2a" stroke-width="1.3"/>
<polygon points="489.20,946.60 496.70,952.98 493.85,963.40 484.55,963.40 481.70,952.98" fill="#4a7bc4" stroke="#1a1a2a" stroke-width="1.3" stroke-linejoin="round"/>
<ellipse cx="489.20" cy="975.60" rx="7.80" ry="9.00" fill="#f0913f" stroke="#1a1a2a" stroke-width="1.3"/>
<text x="151.75" y="1179.21" font-size="23.30" font-weight="bold" font-style="normal" fill="#000" textLength="40.61" lengthAdjust="spacingAndGlyphs">970</text>
<rect x="151.50" y="1181.10" width="41.30" height="2.20" fill="#000"/>
<line x1="172.00" y1="1185.40" x2="172.00" y2="1196.20" stroke="#8a9ab8" stroke-width="1.0"/>
<rect x="140.20" y="1080.20" width="70.90" height="10.60" fill="#d9d9d9" stroke="#555" stroke-width="1.4"/>
<text x="216.07" y="1084.14" font-size="15.77" font-weight="bold" font-style="normal" fill="#000" textLength="19.41" lengthAdjust="spacingAndGlyphs">3+</text>
<line x1="163.80" y1="1090.80" x2="163.80" y2="1093.70" stroke="#111" stroke-width="2.2"/>
<line x1="163.80" y1="1109.60" x2="163.80" y2="1113.70" stroke="#111" stroke-width="2.2"/>
<line x1="163.80" y1="1127.90" x2="163.80" y2="1132.10" stroke="#111" stroke-width="2.2"/>
<rect x="155.20" y="1093.70" width="17.20" height="15.90" fill="#4a7bc4" stroke="#1a1a2a" stroke-width="1.3"/>
<polygon points="163.80,1112.70 172.55,1118.86 169.23,1128.90 158.38,1128.90 155.05,1118.86" fill="#4a7bc4" stroke="#1a1a2a" stroke-width="1.3" stroke-linejoin="round"/>
<ellipse cx="163.80" cy="1140.50" rx="8.40" ry="8.40" fill="#f0913f" stroke="#1a1a2a" stroke-width="1.3"/>
<line x1="189.20" y1="1090.80" x2="189.20" y2="1093.70" stroke="#111" stroke-width="2.2"/>
<line x1="189.20" y1="1109.60" x2="189.20" y2="1113.70" stroke="#111" stroke-width="2.2"/>
<line x1="189.20" y1="1127.90" x2="189.20" y2="1132.10" stroke="#111" stroke-width="2.2"/>
<rect x="181.15" y="1093.70" width="16.10" height="15.90" fill="#4a7bc4" stroke="#1a1a2a" stroke-width="1.3"/>
<polygon points="189.20,1112.70 197.70,1118.86 194.47,1128.90 183.93,1128.90 180.70,1118.86" fill="#4a7bc4" stroke="#1a1a2a" stroke-width="1.3" stroke-linejoin="round"/>
<ellipse cx="189.20" cy="1140.50" rx="8.40" ry="8.40" fill="#f0913f" stroke="#1a1a2a" stroke-width="1.3"/>
<text x="340.90" y="1164.54" font-size="17.20" font-weight="normal" font-style="normal" fill="#000" textLength="41.65" lengthAdjust="spacingAndGlyphs">1353</text>
<text x="306.04" y="1201.14" font-size="17.20" font-weight="normal" font-style="normal" fill="#000" textLength="40.38" lengthAdjust="spacingAndGlyphs">1273</text>
<text x="261.99" y="1208.04" font-size="17.20" font-weight="normal" font-style="normal" fill="#000" textLength="41.86" lengthAdjust="spacingAndGlyphs">1200</text>
<line x1="285.60" y1="1087.20" x2="285.60" y2="1144.40" stroke="#a8a8a8" stroke-width="3" stroke-dasharray="19 6.5"/>
<line x1="321.50" y1="1087.20" x2="321.50" y2="1144.40" stroke="#a8a8a8" stroke-width="3" stroke-dasharray="19 6.5"/>
<line x1="362.30" y1="1087.20" x2="362.30" y2="1144.40" stroke="#a8a8a8" stroke-width="3" stroke-dasharray="19 6.5"/>
<line x1="411.30" y1="1087.20" x2="411.30" y2="1106.00" stroke="#b4b4b4" stroke-width="2.4"/>
<line x1="411.30" y1="1112.50" x2="411.30" y2="1132.00" stroke="#b4b4b4" stroke-width="2.4"/>
<line x1="411.30" y1="1137.50" x2="411.30" y2="1144.80" stroke="#b4b4b4" stroke-width="2.4"/>
<rect x="296.90" y="1108.50" width="16.60" height="15.20" fill="#4a7bc4" stroke="#1a1a2a" stroke-width="1.3"/>
<polygon points="342.80,1107.20 351.70,1113.96 348.32,1125.00 337.28,1125.00 333.90,1113.96" fill="#4a7bc4" stroke="#1a1a2a" stroke-width="1.3" stroke-linejoin="round"/>
<ellipse cx="386.20" cy="1116.00" rx="8.90" ry="8.90" fill="#f0913f" stroke="#1a1a2a" stroke-width="1.3"/>
<text x="689.86" y="948.81" font-size="23.30" font-weight="bold" font-style="normal" fill="#000" textLength="40.23" lengthAdjust="spacingAndGlyphs">915</text>
<rect x="689.00" y="951.30" width="41.60" height="2.20" fill="#000"/>
<rect x="737.70" y="926.70" width="54.50" height="10.60" fill="#d9d9d9" stroke="#555" stroke-width="1.4"/>
<text x="803.68" y="930.80" font-size="15.71" font-weight="bold" font-style="normal" fill="#000" textLength="20.13" lengthAdjust="spacingAndGlyphs">2+</text>
<line x1="764.60" y1="937.30" x2="764.60" y2="939.50" stroke="#111" stroke-width="2.2"/>
<line x1="764.60" y1="955.90" x2="764.60" y2="959.90" stroke="#111" stroke-width="2.2"/>
<line x1="764.60" y1="974.60" x2="764.60" y2="978.40" stroke="#111" stroke-width="2.2"/>
<rect x="756.45" y="939.50" width="16.30" height="16.40" fill="#4a7bc4" stroke="#1a1a2a" stroke-width="1.3"/>
<polygon points="764.60,958.90 773.35,965.25 770.02,975.60 759.18,975.60 755.85,965.25" fill="#4a7bc4" stroke="#1a1a2a" stroke-width="1.3" stroke-linejoin="round"/>
<ellipse cx="764.60" cy="987.40" rx="9.00" ry="9.00" fill="#f0913f" stroke="#1a1a2a" stroke-width="1.3"/>
<rect x="648.75" y="1063.30" width="17.15" height="15.00" fill="#4a7bc4" stroke="#1a1a2a" stroke-width="1.3"/>
<polygon points="676.60,1039.00 685.40,1046.07 682.06,1057.60 671.14,1057.60 667.80,1046.07" fill="#4a7bc4" stroke="#1a1a2a" stroke-width="1.3" stroke-linejoin="round"/>
<ellipse cx="698.50" cy="1035.20" rx="9.20" ry="9.20" fill="#f0913f" stroke="#1a1a2a" stroke-width="1.3"/>
<line x1="649.90" y1="1082.80" x2="649.90" y2="1140.20" stroke="#a8a8a8" stroke-width="3" stroke-dasharray="19.5 6"/>
<line x1="666.90" y1="1082.80" x2="666.90" y2="1140.20" stroke="#a8a8a8" stroke-width="3" stroke-dasharray="19.5 6"/>
<line x1="687.00" y1="1082.80" x2="687.00" y2="1140.20" stroke="#a8a8a8" stroke-width="3" stroke-dasharray="19.5 6"/>
<text x="668.94" y="1173.34" font-size="17.20" font-weight="normal" font-style="normal" fill="#000" textLength="32.00" lengthAdjust="spacingAndGlyphs">813</text>
<text x="640.59" y="1189.94" font-size="17.20" font-weight="normal" font-style="normal" fill="#000" textLength="30.40" lengthAdjust="spacingAndGlyphs">733</text>
<text x="604.47" y="1203.64" font-size="17.20" font-weight="normal" font-style="normal" fill="#000" textLength="31.14" lengthAdjust="spacingAndGlyphs">661</text>
<line x1="639.60" y1="1205.30" x2="648.40" y2="1210.20" stroke="#7f9ac0" stroke-width="1.0"/>
<text x="783.10" y="1163.04" font-size="17.20" font-weight="normal" font-style="normal" fill="#000" textLength="41.53" lengthAdjust="spacingAndGlyphs">1319</text>
<text x="824.60" y="1156.94" font-size="17.20" font-weight="normal" font-style="normal" fill="#000" textLength="41.54" lengthAdjust="spacingAndGlyphs">1465</text>
<text x="865.10" y="1194.44" font-size="17.20" font-weight="normal" font-style="normal" fill="#000" textLength="41.44" lengthAdjust="spacingAndGlyphs">1625</text>
<text x="914.44" y="1210.61" font-size="23.30" font-weight="bold" font-style="normal" fill="#000" textLength="54.00" lengthAdjust="spacingAndGlyphs">1829</text>
<rect x="914.30" y="1211.60" width="54.40" height="2.20" fill="#000"/>
<line x1="809.60" y1="1076.80" x2="809.60" y2="1134.60" stroke="#a8a8a8" stroke-width="3" stroke-dasharray="16 9"/>
<line x1="844.70" y1="1076.80" x2="844.70" y2="1134.60" stroke="#a8a8a8" stroke-width="3" stroke-dasharray="16 9"/>
<line x1="883.80" y1="1076.80" x2="883.80" y2="1134.60" stroke="#a8a8a8" stroke-width="3" stroke-dasharray="16 9"/>
<line x1="932.70" y1="1076.80" x2="932.70" y2="1134.60" stroke="#a8a8a8" stroke-width="3" stroke-dasharray="16 9"/>
<rect x="819.30" y="1092.60" width="16.40" height="15.70" fill="#4a7bc4" stroke="#1a1a2a" stroke-width="1.3"/>
<polygon points="865.40,1091.00 874.30,1097.84 870.92,1109.00 859.88,1109.00 856.50,1097.84" fill="#4a7bc4" stroke="#1a1a2a" stroke-width="1.3" stroke-linejoin="round"/>
<ellipse cx="906.90" cy="1100.40" rx="9.00" ry="9.00" fill="#f0913f" stroke="#1a1a2a" stroke-width="1.3"/>
<rect x="939.00" y="1116.20" width="54.40" height="9.40" fill="#d9d9d9" stroke="#555" stroke-width="1.4"/>
<text x="1005.17" y="1120.09" font-size="17.25" font-weight="bold" font-style="normal" fill="#000" textLength="10.64" lengthAdjust="spacingAndGlyphs">+</text>
<line x1="965.80" y1="1125.60" x2="965.80" y2="1128.50" stroke="#111" stroke-width="2.2"/>
<line x1="965.80" y1="1144.20" x2="965.80" y2="1148.20" stroke="#111" stroke-width="2.2"/>
<line x1="965.80" y1="1163.40" x2="965.80" y2="1167.10" stroke="#111" stroke-width="2.2"/>
<rect x="957.35" y="1128.50" width="16.90" height="15.70" fill="#4a7bc4" stroke="#1a1a2a" stroke-width="1.3"/>
<polygon points="965.80,1147.20 974.55,1153.74 971.22,1164.40 960.38,1164.40 957.05,1153.74" fill="#4a7bc4" stroke="#1a1a2a" stroke-width="1.3" stroke-linejoin="round"/>
<ellipse cx="965.80" cy="1175.70" rx="8.60" ry="8.60" fill="#f0913f" stroke="#1a1a2a" stroke-width="1.3"/>
</svg>
</body></html>
